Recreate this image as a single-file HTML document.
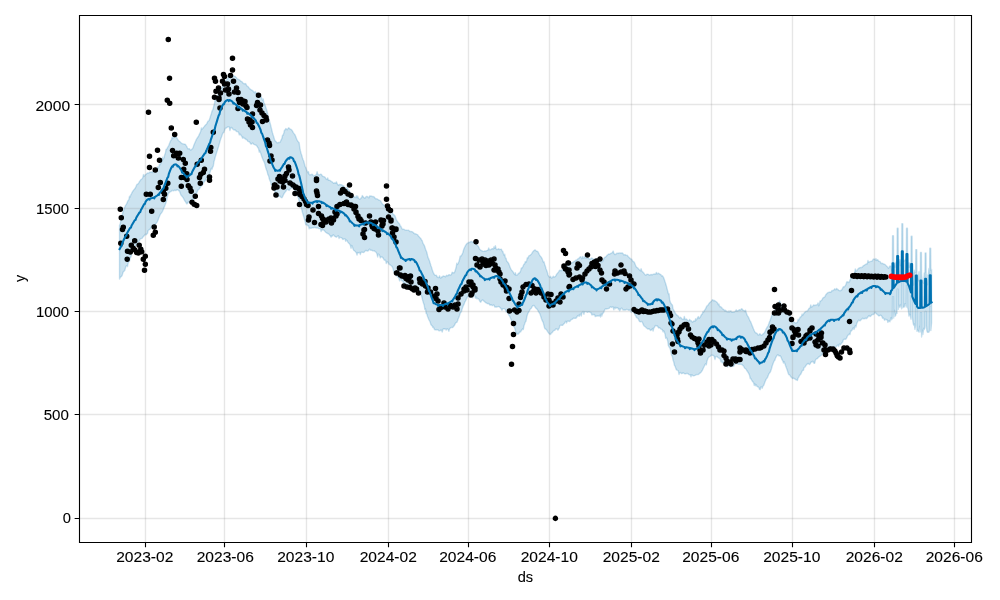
<!DOCTYPE html>
<html><head><meta charset="utf-8"><style>
html,body{margin:0;padding:0;background:#fff;}
svg{display:block;font-family:"Liberation Sans",sans-serif;will-change:transform;}
text{fill:#000;stroke:#000;stroke-width:0.1px;}
</style></head><body>
<svg width="1000" height="600" viewBox="0 0 1000 600"><rect width="1000" height="600" fill="#fff"/><path d="M119.50,225.58 L120.17,223.64 L120.83,220.82 L121.50,217.76 L122.16,214.97 L122.83,212.58 L123.49,211.03 L124.16,207.73 L124.82,207.23 L125.49,205.48 L126.15,204.52 L126.82,203.37 L127.48,201.82 L128.15,200.39 L128.81,199.66 L129.48,196.28 L130.14,196.94 L130.81,194.85 L131.48,193.75 L132.14,192.27 L132.81,191.24 L133.47,190.37 L134.14,189.45 L134.80,188.79 L135.47,187.60 L136.13,186.27 L136.80,184.63 L137.46,184.17 L138.13,183.78 L138.79,182.89 L139.46,181.54 L140.12,180.64 L140.79,179.78 L141.45,179.24 L142.12,178.77 L142.79,177.62 L143.45,174.58 L144.12,176.38 L144.78,175.34 L145.45,174.67 L146.11,174.34 L146.78,173.62 L147.44,172.91 L148.11,173.13 L148.77,173.03 L149.44,172.26 L150.10,172.27 L150.77,172.06 L151.43,171.92 L152.10,172.42 L152.77,171.78 L153.43,170.65 L154.10,169.38 L154.76,170.68 L155.43,170.30 L156.09,169.94 L156.76,169.46 L157.42,166.90 L158.09,168.04 L158.75,166.99 L159.42,164.15 L160.08,164.71 L160.75,163.37 L161.41,161.82 L162.08,160.59 L162.74,157.19 L163.41,158.97 L164.08,157.26 L164.74,154.75 L165.41,153.11 L166.07,149.23 L166.74,149.28 L167.40,147.65 L168.07,146.68 L168.73,145.57 L169.40,143.87 L170.06,141.94 L170.73,140.58 L171.39,140.03 L172.06,137.21 L172.72,138.41 L173.39,137.61 L174.05,135.92 L174.72,137.21 L175.39,136.92 L176.05,137.02 L176.72,137.70 L177.38,138.75 L178.05,139.99 L178.71,140.72 L179.38,141.18 L180.04,141.79 L180.71,142.42 L181.37,143.15 L182.04,143.64 L182.70,143.75 L183.37,143.90 L184.03,144.24 L184.70,144.10 L185.36,144.37 L186.03,145.46 L186.70,146.37 L187.36,147.78 L188.03,148.88 L188.69,148.63 L189.36,148.78 L190.02,149.70 L190.69,150.06 L191.35,149.66 L192.02,149.09 L192.68,148.39 L193.35,146.76 L194.01,144.67 L194.68,143.20 L195.34,141.73 L196.01,140.16 L196.67,138.93 L197.34,137.86 L198.01,137.03 L198.67,135.87 L199.34,134.33 L200.00,132.98 L200.67,131.53 L201.33,127.93 L202.00,129.24 L202.66,128.60 L203.33,127.57 L203.99,126.87 L204.66,126.05 L205.32,125.25 L205.99,124.60 L206.65,123.86 L207.32,122.53 L207.98,121.18 L208.65,120.92 L209.32,119.99 L209.98,117.84 L210.65,115.78 L211.31,113.77 L211.98,111.24 L212.64,110.19 L213.31,107.84 L213.97,105.29 L214.64,102.88 L215.30,98.00 L215.97,98.80 L216.63,97.67 L217.30,96.27 L217.96,94.85 L218.63,93.27 L219.30,91.69 L219.96,90.57 L220.63,89.62 L221.29,88.67 L221.96,87.54 L222.62,86.13 L223.29,84.65 L223.95,84.08 L224.62,83.67 L225.28,82.02 L225.95,80.62 L226.61,79.74 L227.28,79.67 L227.94,78.03 L228.61,77.04 L229.27,75.65 L229.94,75.48 L230.61,75.72 L231.27,75.68 L231.94,73.65 L232.60,75.31 L233.27,75.70 L233.93,76.00 L234.60,76.20 L235.26,76.34 L235.93,77.16 L236.59,77.79 L237.26,78.78 L237.92,79.13 L238.59,79.53 L239.25,79.71 L239.92,80.30 L240.58,81.04 L241.25,81.35 L241.92,81.69 L242.58,82.49 L243.25,83.37 L243.91,83.76 L244.58,83.74 L245.24,83.52 L245.91,83.95 L246.57,85.34 L247.24,86.20 L247.90,86.48 L248.57,87.25 L249.23,88.19 L249.90,88.97 L250.56,89.36 L251.23,89.82 L251.89,90.33 L252.56,90.52 L253.23,91.24 L253.89,92.09 L254.56,92.83 L255.22,91.46 L255.89,93.61 L256.55,92.67 L257.22,92.88 L257.88,93.98 L258.55,94.50 L259.21,95.36 L259.88,96.12 L260.54,95.92 L261.21,96.63 L261.87,98.63 L262.54,100.21 L263.20,98.85 L263.87,102.76 L264.54,103.87 L265.20,105.43 L265.87,107.61 L266.53,109.45 L267.20,111.64 L267.86,114.66 L268.53,117.47 L269.19,119.86 L269.86,122.15 L270.52,124.70 L271.19,127.40 L271.85,130.23 L272.52,132.92 L273.18,135.12 L273.85,137.30 L274.51,139.55 L275.18,140.89 L275.85,141.33 L276.51,142.22 L277.18,142.92 L277.84,142.77 L278.51,142.43 L279.17,142.53 L279.84,142.43 L280.50,141.33 L281.17,139.84 L281.83,138.59 L282.50,135.31 L283.16,135.24 L283.83,132.92 L284.49,130.18 L285.16,129.83 L285.83,128.59 L286.49,129.15 L287.16,129.70 L287.82,128.83 L288.49,127.79 L289.15,128.03 L289.82,128.94 L290.48,129.28 L291.15,129.48 L291.81,130.09 L292.48,131.08 L293.14,132.33 L293.81,133.40 L294.47,134.12 L295.14,135.14 L295.80,136.70 L296.47,138.42 L297.14,140.03 L297.80,141.35 L298.47,141.96 L299.13,142.68 L299.80,147.54 L300.46,150.90 L301.13,153.49 L301.79,155.36 L302.46,157.90 L303.12,159.75 L303.79,161.28 L304.45,164.01 L305.12,166.59 L305.78,167.52 L306.45,169.54 L307.11,171.08 L307.78,172.74 L308.45,171.61 L309.11,174.41 L309.78,174.78 L310.44,174.75 L311.11,174.76 L311.77,174.14 L312.44,174.35 L313.10,175.43 L313.77,175.88 L314.43,175.61 L315.10,175.27 L315.76,174.88 L316.43,174.58 L317.09,171.73 L317.76,174.15 L318.42,174.52 L319.09,174.97 L319.76,174.77 L320.42,174.29 L321.09,174.14 L321.75,174.85 L322.42,176.07 L323.08,176.54 L323.75,176.62 L324.41,176.82 L325.08,177.27 L325.74,178.40 L326.41,179.35 L327.07,179.53 L327.74,177.86 L328.40,180.27 L329.07,180.37 L329.73,180.30 L330.40,180.67 L331.07,181.36 L331.73,181.66 L332.40,182.09 L333.06,182.79 L333.73,183.34 L334.39,182.91 L335.06,182.79 L335.72,183.28 L336.39,181.78 L337.05,183.48 L337.72,184.51 L338.38,185.26 L339.05,184.83 L339.71,184.39 L340.38,184.56 L341.04,184.86 L341.71,184.74 L342.38,185.24 L343.04,186.13 L343.71,185.73 L344.37,187.24 L345.04,187.97 L345.70,188.00 L346.37,188.67 L347.03,186.88 L347.70,189.45 L348.36,189.41 L349.03,190.14 L349.69,191.48 L350.36,193.57 L351.02,194.13 L351.69,194.02 L352.36,194.49 L353.02,195.52 L353.69,196.41 L354.35,196.90 L355.02,197.33 L355.68,197.56 L356.35,195.78 L357.01,197.73 L357.68,196.03 L358.34,198.10 L359.01,198.69 L359.67,199.22 L360.34,198.89 L361.00,198.00 L361.67,197.57 L362.33,195.56 L363.00,196.52 L363.67,197.16 L364.33,198.12 L365.00,198.19 L365.66,197.21 L366.33,196.41 L366.99,196.39 L367.66,196.67 L368.32,197.41 L368.99,197.87 L369.65,195.85 L370.32,196.03 L370.98,195.92 L371.65,196.38 L372.31,196.46 L372.98,196.41 L373.64,196.63 L374.31,197.05 L374.98,198.01 L375.64,198.80 L376.31,198.83 L376.97,198.80 L377.64,199.27 L378.30,199.72 L378.97,200.08 L379.63,200.45 L380.30,200.64 L380.96,201.51 L381.63,202.92 L382.29,203.75 L382.96,204.57 L383.62,205.08 L384.29,204.91 L384.95,205.58 L385.62,206.88 L386.29,207.58 L386.95,207.66 L387.62,208.84 L388.28,208.90 L388.95,208.30 L389.61,209.20 L390.28,210.44 L390.94,210.69 L391.61,210.72 L392.27,212.44 L392.94,213.87 L393.60,214.64 L394.27,215.13 L394.93,215.75 L395.60,217.41 L396.26,219.48 L396.93,220.70 L397.60,221.62 L398.26,222.45 L398.93,223.17 L399.59,224.06 L400.26,225.72 L400.92,226.29 L401.59,227.92 L402.25,229.03 L402.92,229.47 L403.58,229.22 L404.25,229.47 L404.91,229.94 L405.58,230.22 L406.24,230.20 L406.91,230.23 L407.57,230.38 L408.24,230.27 L408.91,230.42 L409.57,231.30 L410.24,231.64 L410.90,231.32 L411.57,231.54 L412.23,231.76 L412.90,232.14 L413.56,232.86 L414.23,233.40 L414.89,233.81 L415.56,233.85 L416.22,234.10 L416.89,234.40 L417.55,234.64 L418.22,235.71 L418.89,236.53 L419.55,237.35 L420.22,237.92 L420.88,238.58 L421.55,239.99 L422.21,240.65 L422.88,243.14 L423.54,244.17 L424.21,245.36 L424.87,247.06 L425.54,249.22 L426.20,250.79 L426.87,252.52 L427.53,255.50 L428.20,257.92 L428.86,259.18 L429.53,260.95 L430.20,263.20 L430.86,265.52 L431.53,267.15 L432.19,269.62 L432.86,271.41 L433.52,273.18 L434.19,274.31 L434.85,275.12 L435.52,275.34 L436.18,275.25 L436.85,276.10 L437.51,277.41 L438.18,277.60 L438.84,277.46 L439.51,275.83 L440.17,277.66 L440.84,278.07 L441.51,276.96 L442.17,277.04 L442.84,276.13 L443.50,276.02 L444.17,276.27 L444.83,276.34 L445.50,276.84 L446.16,275.74 L446.83,275.17 L447.49,275.73 L448.16,275.61 L448.82,274.68 L449.49,274.70 L450.15,275.02 L450.82,274.92 L451.48,274.35 L452.15,272.09 L452.82,272.86 L453.48,272.68 L454.15,272.81 L454.81,271.66 L455.48,269.52 L456.14,267.32 L456.81,263.21 L457.47,264.46 L458.14,263.32 L458.80,261.71 L459.47,259.79 L460.13,256.23 L460.80,256.41 L461.46,255.25 L462.13,254.30 L462.79,252.77 L463.46,250.30 L464.13,248.27 L464.79,246.98 L465.46,245.65 L466.12,244.56 L466.79,243.73 L467.45,243.14 L468.12,243.01 L468.78,242.22 L469.45,242.49 L470.11,242.10 L470.78,241.61 L471.44,241.52 L472.11,241.76 L472.77,242.10 L473.44,242.59 L474.10,242.75 L474.77,242.90 L475.44,243.52 L476.10,244.03 L476.77,244.83 L477.43,245.51 L478.10,246.11 L478.76,247.06 L479.43,248.92 L480.09,249.59 L480.76,250.15 L481.42,250.56 L482.09,250.86 L482.75,251.18 L483.42,251.39 L484.08,251.24 L484.75,250.95 L485.42,251.06 L486.08,251.03 L486.75,250.56 L487.41,250.33 L488.08,249.97 L488.74,247.97 L489.41,249.63 L490.07,249.80 L490.74,249.57 L491.40,249.18 L492.07,248.63 L492.73,248.61 L493.40,248.91 L494.06,246.80 L494.73,248.28 L495.39,245.70 L496.06,248.63 L496.73,249.45 L497.39,249.51 L498.06,248.94 L498.72,248.78 L499.39,249.58 L500.05,249.37 L500.72,249.33 L501.38,249.12 L502.05,250.93 L502.71,251.12 L503.38,253.51 L504.04,255.33 L504.71,254.17 L505.37,257.95 L506.04,258.21 L506.70,261.25 L507.37,261.79 L508.04,262.51 L508.70,263.54 L509.37,265.20 L510.03,267.15 L510.70,268.57 L511.36,269.78 L512.03,270.77 L512.69,271.30 L513.36,272.30 L514.02,273.61 L514.69,274.56 L515.35,272.68 L516.02,275.27 L516.68,275.16 L517.35,274.93 L518.01,273.95 L518.68,273.19 L519.35,273.00 L520.01,272.25 L520.68,270.70 L521.34,267.96 L522.01,268.03 L522.67,267.05 L523.34,265.46 L524.00,264.10 L524.67,263.81 L525.33,261.56 L526.00,262.25 L526.66,260.67 L527.33,257.72 L527.99,258.20 L528.66,256.20 L529.32,255.57 L529.99,255.39 L530.66,254.79 L531.32,254.21 L531.99,253.16 L532.65,251.92 L533.32,251.20 L533.98,250.61 L534.65,249.88 L535.31,249.88 L535.98,250.77 L536.64,251.37 L537.31,251.32 L537.97,251.79 L538.64,253.16 L539.30,254.50 L539.97,255.60 L540.63,256.60 L541.30,257.26 L541.97,258.36 L542.63,260.13 L543.30,262.08 L543.96,261.64 L544.63,264.15 L545.29,265.99 L545.96,268.46 L546.62,270.16 L547.29,272.10 L547.95,274.66 L548.62,276.34 L549.28,276.93 L549.95,277.38 L550.61,276.29 L551.28,278.01 L551.95,277.90 L552.61,277.28 L553.28,276.17 L553.94,277.07 L554.61,276.84 L555.27,276.59 L555.94,275.67 L556.60,274.35 L557.27,273.42 L557.93,272.73 L558.60,271.91 L559.26,270.70 L559.93,270.10 L560.59,270.52 L561.26,270.79 L561.92,270.02 L562.59,268.70 L563.26,268.22 L563.92,268.06 L564.59,266.99 L565.25,266.04 L565.92,265.96 L566.58,265.60 L567.25,264.44 L567.91,262.35 L568.58,263.31 L569.24,263.57 L569.91,261.22 L570.57,262.89 L571.24,263.00 L571.90,262.81 L572.57,262.44 L573.23,262.09 L573.90,261.55 L574.57,261.08 L575.23,261.07 L575.90,260.02 L576.56,260.50 L577.23,259.40 L577.89,258.81 L578.56,258.58 L579.22,258.04 L579.89,257.02 L580.55,256.73 L581.22,257.72 L581.88,258.78 L582.55,256.36 L583.21,257.83 L583.88,258.26 L584.54,256.43 L585.21,257.78 L585.88,257.57 L586.54,258.10 L587.21,258.21 L587.87,257.92 L588.54,258.07 L589.20,258.98 L589.87,259.32 L590.53,258.96 L591.20,258.34 L591.86,257.95 L592.53,258.55 L593.19,259.12 L593.86,259.48 L594.52,258.96 L595.19,259.19 L595.85,259.02 L596.52,259.61 L597.19,259.88 L597.85,259.96 L598.52,260.18 L599.18,259.96 L599.85,258.56 L600.51,261.05 L601.18,261.59 L601.84,261.81 L602.51,261.66 L603.17,260.11 L603.84,258.44 L604.50,257.66 L605.17,257.12 L605.83,256.75 L606.50,256.01 L607.16,255.11 L607.83,254.73 L608.50,254.06 L609.16,254.22 L609.83,254.02 L610.49,253.56 L611.16,253.25 L611.82,252.88 L612.49,252.37 L613.15,251.02 L613.82,253.05 L614.48,254.28 L615.15,254.61 L615.81,254.20 L616.48,253.46 L617.14,253.18 L617.81,253.49 L618.48,253.29 L619.14,252.91 L619.81,252.93 L620.47,252.99 L621.14,253.02 L621.80,252.97 L622.47,252.94 L623.13,253.85 L623.80,254.93 L624.46,254.70 L625.13,254.57 L625.79,255.24 L626.46,255.43 L627.12,255.24 L627.79,255.92 L628.45,256.95 L629.12,257.39 L629.79,258.05 L630.45,258.77 L631.12,258.93 L631.78,259.38 L632.45,260.57 L633.11,261.49 L633.78,261.68 L634.44,262.55 L635.11,264.19 L635.77,265.73 L636.44,267.08 L637.10,267.62 L637.77,267.82 L638.43,268.75 L639.10,269.47 L639.76,270.05 L640.43,270.85 L641.10,268.67 L641.76,270.92 L642.43,271.67 L643.09,272.18 L643.76,272.93 L644.42,273.92 L645.09,274.74 L645.75,275.20 L646.42,274.66 L647.08,274.08 L647.75,274.30 L648.41,274.50 L649.08,274.80 L649.74,275.27 L650.41,274.78 L651.07,274.37 L651.74,274.82 L652.41,274.82 L653.07,274.20 L653.74,274.21 L654.40,274.00 L655.07,273.96 L655.73,274.12 L656.40,272.35 L657.06,273.90 L657.73,273.60 L658.39,273.20 L659.06,273.53 L659.72,274.13 L660.39,274.30 L661.05,274.84 L661.72,276.14 L662.38,275.78 L663.05,276.69 L663.72,277.76 L664.38,279.81 L665.05,281.79 L665.71,283.69 L666.38,285.98 L667.04,288.56 L667.71,291.24 L668.37,293.70 L669.04,293.80 L669.70,299.88 L670.37,302.30 L671.03,303.31 L671.70,304.67 L672.36,304.82 L673.03,308.77 L673.69,309.97 L674.36,311.36 L675.03,312.79 L675.69,313.64 L676.36,314.57 L677.02,315.29 L677.69,315.52 L678.35,316.22 L679.02,317.38 L679.68,318.10 L680.35,317.25 L681.01,317.69 L681.68,318.39 L682.34,319.36 L683.01,319.54 L683.67,319.16 L684.34,316.49 L685.01,319.47 L685.67,319.25 L686.34,318.92 L687.00,319.58 L687.67,320.53 L688.33,320.83 L689.00,320.75 L689.66,319.37 L690.33,320.75 L690.99,320.61 L691.66,321.19 L692.32,322.20 L692.99,321.81 L693.65,320.98 L694.32,320.94 L694.98,321.30 L695.65,318.75 L696.32,319.98 L696.98,318.89 L697.65,317.59 L698.31,316.54 L698.98,318.28 L699.64,317.85 L700.31,316.93 L700.97,315.58 L701.64,314.30 L702.30,314.00 L702.97,311.58 L703.63,312.16 L704.30,310.43 L704.96,309.70 L705.63,308.75 L706.29,307.05 L706.96,305.95 L707.63,305.53 L708.29,304.66 L708.96,303.58 L709.62,302.80 L710.29,302.12 L710.95,301.57 L711.62,300.85 L712.28,299.77 L712.95,299.90 L713.61,300.76 L714.28,300.44 L714.94,300.86 L715.61,301.47 L716.27,301.71 L716.94,302.22 L717.60,303.09 L718.27,304.75 L718.94,304.04 L719.60,306.69 L720.27,306.49 L720.93,306.94 L721.60,307.54 L722.26,308.40 L722.93,309.08 L723.59,309.31 L724.26,310.11 L724.92,311.02 L725.59,310.32 L726.25,311.54 L726.92,311.30 L727.58,311.81 L728.25,312.15 L728.91,310.88 L729.58,311.91 L730.25,311.19 L730.91,310.92 L731.58,311.88 L732.24,312.35 L732.91,312.03 L733.57,312.06 L734.24,312.10 L734.90,311.51 L735.57,311.05 L736.23,309.80 L736.90,311.30 L737.56,310.78 L738.23,310.66 L738.89,310.03 L739.56,309.65 L740.22,310.05 L740.89,309.48 L741.56,308.70 L742.22,309.11 L742.89,310.09 L743.55,310.49 L744.22,310.61 L744.88,311.53 L745.55,310.10 L746.21,312.48 L746.88,314.70 L747.54,315.89 L748.21,316.86 L748.87,318.18 L749.54,319.76 L750.20,321.07 L750.87,322.21 L751.54,323.89 L752.20,325.85 L752.87,327.40 L753.53,329.00 L754.20,330.49 L754.86,331.85 L755.53,332.75 L756.19,332.88 L756.86,333.27 L757.52,334.09 L758.19,335.16 L758.85,335.05 L759.52,333.82 L760.18,333.96 L760.85,334.98 L761.51,335.29 L762.18,334.85 L762.85,334.14 L763.51,333.61 L764.18,332.87 L764.84,331.91 L765.51,330.47 L766.17,328.76 L766.84,327.72 L767.50,326.72 L768.17,325.50 L768.83,323.68 L769.50,321.74 L770.16,320.17 L770.83,318.19 L771.49,316.09 L772.16,314.52 L772.82,313.61 L773.49,312.77 L774.16,311.40 L774.82,309.86 L775.49,308.59 L776.15,307.14 L776.82,305.90 L777.48,305.35 L778.15,304.71 L778.81,303.79 L779.48,300.86 L780.14,302.14 L780.81,303.93 L781.47,304.47 L782.14,305.38 L782.80,306.02 L783.47,306.49 L784.13,307.11 L784.80,308.15 L785.47,309.09 L786.13,310.17 L786.80,311.64 L787.46,312.73 L788.13,313.81 L788.79,314.45 L789.46,314.72 L790.12,315.87 L790.79,317.52 L791.45,318.91 L792.12,320.12 L792.78,320.87 L793.45,321.47 L794.11,322.08 L794.78,322.50 L795.44,323.06 L796.11,323.00 L796.78,322.50 L797.44,322.28 L798.11,319.17 L798.77,319.98 L799.44,318.71 L800.10,317.28 L800.77,316.75 L801.43,316.61 L802.10,313.99 L802.76,315.26 L803.43,314.06 L804.09,313.03 L804.76,312.37 L805.42,311.77 L806.09,311.19 L806.75,311.18 L807.42,310.93 L808.09,309.94 L808.75,308.79 L809.42,308.11 L810.08,307.85 L810.75,304.86 L811.41,307.09 L812.08,306.84 L812.74,306.18 L813.41,304.97 L814.07,304.97 L814.74,305.55 L815.40,305.20 L816.07,304.90 L816.73,304.80 L817.40,304.63 L818.07,302.86 L818.73,305.80 L819.40,304.47 L820.06,300.92 L820.73,300.99 L821.39,300.51 L822.06,299.80 L822.72,298.35 L823.39,297.50 L824.05,297.52 L824.72,296.97 L825.38,295.69 L826.05,294.43 L826.71,293.68 L827.38,292.98 L828.04,292.47 L828.71,292.47 L829.38,292.12 L830.04,292.06 L830.71,292.33 L831.37,291.47 L832.04,290.47 L832.70,290.75 L833.37,290.44 L834.03,289.86 L834.70,288.79 L835.36,289.52 L836.03,289.80 L836.69,288.35 L837.36,289.47 L838.02,289.50 L838.69,290.28 L839.35,290.60 L840.02,290.73 L840.69,290.53 L841.35,290.24 L842.02,289.45 L842.68,288.09 L843.35,286.73 L844.01,286.95 L844.68,286.40 L845.34,285.58 L846.01,284.38 L846.67,281.93 L847.34,281.74 L848.00,282.69 L848.67,281.90 L849.33,282.07 L850.00,279.95 L850.66,278.77 L851.33,275.71 L852.00,278.07 L852.66,276.57 L853.33,274.77 L853.99,273.26 L854.66,272.32 L855.32,268.98 L855.99,271.05 L856.65,270.68 L857.32,269.88 L857.98,268.91 L858.65,268.32 L859.31,268.00 L859.98,267.57 L860.64,267.52 L861.31,267.63 L861.97,267.19 L862.64,266.63 L863.31,265.64 L863.97,265.48 L864.64,264.88 L865.30,264.60 L865.97,264.22 L866.63,263.78 L867.30,263.80 L867.96,260.53 L868.63,262.27 L869.29,261.82 L869.96,261.64 L870.62,261.44 L871.29,261.32 L871.95,261.21 L872.62,260.14 L873.28,259.13 L873.95,259.01 L874.62,259.11 L875.28,259.90 L875.95,258.51 L876.61,260.44 L877.28,259.69 L877.94,259.81 L878.61,261.34 L879.27,261.40 L879.94,261.43 L880.60,262.48 L881.27,263.50 L881.93,263.51 L882.60,263.31 L883.26,263.79 L883.93,264.27 L884.60,264.27 L885.26,264.64 L885.93,265.41 L886.59,265.96 L887.26,266.65 L887.92,267.77 L888.59,268.29 L889.25,266.91 L889.92,266.00 L891.00,266.14 L891.67,270.07 L892.33,265.53 L892.55,235.80 L893.45,235.80 L893.66,264.95 L894.33,264.83 L894.99,267.28 L895.66,263.33 L896.32,261.72 L896.99,263.11 L897.20,228.30 L898.10,228.30 L898.32,259.62 L898.98,262.09 L899.65,259.79 L900.31,265.68 L900.98,259.87 L901.64,263.97 L901.86,223.75 L902.76,223.75 L902.98,261.59 L903.64,260.97 L904.31,260.87 L904.97,260.18 L905.64,259.21 L906.30,260.17 L906.52,228.30 L907.42,228.30 L907.63,263.97 L908.30,262.63 L908.96,267.31 L909.63,262.89 L910.29,267.13 L910.96,265.43 L911.17,236.25 L912.07,236.25 L912.29,275.14 L912.95,273.05 L913.62,285.05 L914.29,270.28 L914.95,272.56 L915.62,272.00 L915.83,249.60 L916.73,249.60 L916.95,275.35 L917.61,274.69 L918.28,280.86 L918.94,271.78 L919.61,282.60 L920.27,285.74 L920.49,252.50 L921.39,252.50 L921.60,274.65 L922.27,280.07 L922.93,282.62 L923.60,283.02 L924.26,273.03 L924.93,272.44 L925.15,252.90 L926.05,252.90 L926.26,289.70 L926.93,274.92 L927.59,284.68 L928.26,276.07 L928.92,268.49 L929.59,275.38 L929.80,248.30 L930.70,248.30 L930.92,270.54 L931.58,269.40 L931.58,322.71 L930.92,330.54 L930.70,306.60 L929.80,306.60 L929.59,330.29 L928.92,332.15 L928.26,332.35 L927.59,332.37 L926.93,331.21 L926.26,325.26 L926.05,311.45 L925.15,311.45 L924.93,327.84 L924.26,329.57 L923.60,328.33 L922.93,334.46 L922.27,330.15 L921.60,336.96 L921.39,312.72 L920.49,312.72 L920.27,331.89 L919.61,326.28 L918.94,332.09 L918.28,330.92 L917.61,330.09 L916.95,331.31 L916.73,304.47 L915.83,304.47 L915.62,325.08 L914.95,329.43 L914.29,323.88 L913.62,325.16 L912.95,322.29 L912.29,316.55 L912.07,295.43 L911.17,295.43 L910.96,319.25 L910.29,315.29 L909.63,314.35 L908.96,316.13 L908.30,309.86 L907.63,307.58 L907.42,285.20 L906.52,285.20 L906.30,307.07 L905.64,304.05 L904.97,303.69 L904.31,306.95 L903.64,306.82 L902.98,307.64 L902.76,282.05 L901.86,282.05 L901.64,308.84 L900.98,304.42 L900.31,306.15 L899.65,307.37 L898.98,305.04 L898.32,309.40 L898.10,289.18 L897.20,289.18 L896.99,313.42 L896.32,313.35 L895.66,315.44 L894.99,316.37 L894.33,310.15 L893.66,318.09 L893.45,296.57 L892.55,296.57 L892.33,318.50 L891.67,319.76 L891.00,317.56 L889.92,321.71 L889.25,321.21 L888.59,320.97 L887.92,322.47 L887.26,319.89 L886.59,319.79 L885.93,319.41 L885.26,319.27 L884.60,320.26 L883.93,318.68 L883.26,317.99 L882.60,318.23 L881.93,316.51 L881.27,315.64 L880.60,315.19 L879.94,315.45 L879.27,315.88 L878.61,315.88 L877.94,315.07 L877.28,314.31 L876.61,314.07 L875.95,313.33 L875.28,312.34 L874.62,312.88 L873.95,314.25 L873.28,314.59 L872.62,314.43 L871.95,314.79 L871.29,315.51 L870.62,316.14 L869.96,316.64 L869.29,315.49 L868.63,315.89 L867.96,317.02 L867.30,317.79 L866.63,318.59 L865.97,318.55 L865.30,318.15 L864.64,318.64 L863.97,318.97 L863.31,318.43 L862.64,318.27 L861.97,318.97 L861.31,319.55 L860.64,320.31 L859.98,320.89 L859.31,320.32 L858.65,320.12 L857.98,321.20 L857.32,322.31 L856.65,323.58 L855.99,327.01 L855.32,325.65 L854.66,327.69 L853.99,329.43 L853.33,327.76 L852.66,328.74 L852.00,330.31 L851.33,330.96 L850.66,331.02 L850.00,334.61 L849.33,333.91 L848.67,334.86 L848.00,335.11 L847.34,336.13 L846.67,337.90 L846.01,339.01 L845.34,339.29 L844.68,339.27 L844.01,339.15 L843.35,339.79 L842.68,342.00 L842.02,342.70 L841.35,343.46 L840.69,344.50 L840.02,344.86 L839.35,344.06 L838.69,346.62 L838.02,344.92 L837.36,345.51 L836.69,346.02 L836.03,347.07 L835.36,347.36 L834.70,347.58 L834.03,347.04 L833.37,348.36 L832.70,349.58 L832.04,350.25 L831.37,350.54 L830.71,349.73 L830.04,349.39 L829.38,350.65 L828.71,351.30 L828.04,351.14 L827.38,351.10 L826.71,350.96 L826.05,351.34 L825.38,351.87 L824.72,351.78 L824.05,352.50 L823.39,353.01 L822.72,353.29 L822.06,354.09 L821.39,355.04 L820.73,355.84 L820.06,356.00 L819.40,356.63 L818.73,357.01 L818.07,357.76 L817.40,358.63 L816.73,358.78 L816.07,359.24 L815.40,360.08 L814.74,363.21 L814.07,363.40 L813.41,361.71 L812.74,361.22 L812.08,362.09 L811.41,361.70 L810.75,362.70 L810.08,363.90 L809.42,364.49 L808.75,363.97 L808.09,363.38 L807.42,363.79 L806.75,364.65 L806.09,365.35 L805.42,366.40 L804.76,367.35 L804.09,367.55 L803.43,370.30 L802.76,370.25 L802.10,371.22 L801.43,372.63 L800.77,374.31 L800.10,374.83 L799.44,375.64 L798.77,377.09 L798.11,378.04 L797.44,380.42 L796.78,380.07 L796.11,379.89 L795.44,379.34 L794.78,378.89 L794.11,378.36 L793.45,378.20 L792.78,378.64 L792.12,378.13 L791.45,377.29 L790.79,376.83 L790.12,375.57 L789.46,374.75 L788.79,374.58 L788.13,373.18 L787.46,370.84 L786.80,368.91 L786.13,367.31 L785.47,365.54 L784.80,363.39 L784.13,361.68 L783.47,363.10 L782.80,360.95 L782.14,359.91 L781.47,358.28 L780.81,356.63 L780.14,355.80 L779.48,355.95 L778.81,355.75 L778.15,354.89 L777.48,354.95 L776.82,355.87 L776.15,356.88 L775.49,358.29 L774.82,360.30 L774.16,360.95 L773.49,362.51 L772.82,364.32 L772.16,366.28 L771.49,368.75 L770.83,370.83 L770.16,372.24 L769.50,373.04 L768.83,373.96 L768.17,375.86 L767.50,377.55 L766.84,378.32 L766.17,379.20 L765.51,380.65 L764.84,382.26 L764.18,384.24 L763.51,385.71 L762.85,386.19 L762.18,388.32 L761.51,386.85 L760.85,386.94 L760.18,389.69 L759.52,389.42 L758.85,387.50 L758.19,386.92 L757.52,386.72 L756.86,386.15 L756.19,384.79 L755.53,385.65 L754.86,383.79 L754.20,385.41 L753.53,382.35 L752.87,381.90 L752.20,381.00 L751.54,379.91 L750.87,378.54 L750.20,378.49 L749.54,375.27 L748.87,373.87 L748.21,372.63 L747.54,371.53 L746.88,370.74 L746.21,369.45 L745.55,368.67 L744.88,368.30 L744.22,367.46 L743.55,366.05 L742.89,365.58 L742.22,364.65 L741.56,364.49 L740.89,364.41 L740.22,364.22 L739.56,364.27 L738.89,364.42 L738.23,364.17 L737.56,363.77 L736.90,363.73 L736.23,363.61 L735.57,363.64 L734.90,364.19 L734.24,365.12 L733.57,366.28 L732.91,366.45 L732.24,366.20 L731.58,366.52 L730.91,366.02 L730.25,366.97 L729.58,365.06 L728.91,365.38 L728.25,365.56 L727.58,367.08 L726.92,365.34 L726.25,365.01 L725.59,365.80 L724.92,362.94 L724.26,362.39 L723.59,362.10 L722.93,362.44 L722.26,362.95 L721.60,361.28 L720.93,361.79 L720.27,359.21 L719.60,358.52 L718.94,358.10 L718.27,357.80 L717.60,357.21 L716.94,356.55 L716.27,356.51 L715.61,356.85 L714.94,359.46 L714.28,356.73 L713.61,355.67 L712.95,355.22 L712.28,355.40 L711.62,355.24 L710.95,355.47 L710.29,356.22 L709.62,356.65 L708.96,356.98 L708.29,357.68 L707.63,359.25 L706.96,361.31 L706.29,364.89 L705.63,363.76 L704.96,364.81 L704.30,366.23 L703.63,367.54 L702.97,368.97 L702.30,370.48 L701.64,371.46 L700.97,372.24 L700.31,372.95 L699.64,373.37 L698.98,373.97 L698.31,374.51 L697.65,374.57 L696.98,374.44 L696.32,374.60 L695.65,375.07 L694.98,375.41 L694.32,375.68 L693.65,375.88 L692.99,375.74 L692.32,375.13 L691.66,374.76 L690.99,376.85 L690.33,374.75 L689.66,374.86 L689.00,374.65 L688.33,374.06 L687.67,373.49 L687.00,373.45 L686.34,373.55 L685.67,373.73 L685.01,373.93 L684.34,373.68 L683.67,373.02 L683.01,372.73 L682.34,373.38 L681.68,373.64 L681.01,372.96 L680.35,372.56 L679.68,372.57 L679.02,374.57 L678.35,371.06 L677.69,370.36 L677.02,370.19 L676.36,369.75 L675.69,368.01 L675.03,366.14 L674.36,365.15 L673.69,361.85 L673.03,360.22 L672.36,356.36 L671.70,355.58 L671.03,352.74 L670.37,349.38 L669.70,347.80 L669.04,346.83 L668.37,345.66 L667.71,340.97 L667.04,338.74 L666.38,337.35 L665.71,338.31 L665.05,334.15 L664.38,332.16 L663.72,330.82 L663.05,331.88 L662.38,329.89 L661.72,329.35 L661.05,329.15 L660.39,328.58 L659.72,327.68 L659.06,327.98 L658.39,327.78 L657.73,326.39 L657.06,325.90 L656.40,325.83 L655.73,325.46 L655.07,326.10 L654.40,327.46 L653.74,328.27 L653.07,330.97 L652.41,328.52 L651.74,330.02 L651.07,329.89 L650.41,330.42 L649.74,329.60 L649.08,328.71 L648.41,329.03 L647.75,329.02 L647.08,328.43 L646.42,328.00 L645.75,327.30 L645.09,326.61 L644.42,326.33 L643.76,325.62 L643.09,323.95 L642.43,322.40 L641.76,321.59 L641.10,321.52 L640.43,321.90 L639.76,321.65 L639.10,320.90 L638.43,318.96 L637.77,318.37 L637.10,317.98 L636.44,317.48 L635.77,315.96 L635.11,315.01 L634.44,313.55 L633.78,312.38 L633.11,311.95 L632.45,311.48 L631.78,310.76 L631.12,312.44 L630.45,309.54 L629.79,309.93 L629.12,310.44 L628.45,310.19 L627.79,309.58 L627.12,309.50 L626.46,309.48 L625.79,309.61 L625.13,310.14 L624.46,309.95 L623.80,309.83 L623.13,310.02 L622.47,309.12 L621.80,308.11 L621.14,308.44 L620.47,309.24 L619.81,310.85 L619.14,308.60 L618.48,309.59 L617.81,307.70 L617.14,308.02 L616.48,307.99 L615.81,307.22 L615.15,308.67 L614.48,307.45 L613.82,309.72 L613.15,306.87 L612.49,306.61 L611.82,307.50 L611.16,307.13 L610.49,306.72 L609.83,307.54 L609.16,308.30 L608.50,308.47 L607.83,308.61 L607.16,308.92 L606.50,308.98 L605.83,308.92 L605.17,309.11 L604.50,310.34 L603.84,312.07 L603.17,313.04 L602.51,313.80 L601.84,316.04 L601.18,313.89 L600.51,317.06 L599.85,315.21 L599.18,315.95 L598.52,316.10 L597.85,315.91 L597.19,315.97 L596.52,316.14 L595.85,316.13 L595.19,316.61 L594.52,314.75 L593.86,314.43 L593.19,314.79 L592.53,314.41 L591.86,314.94 L591.20,312.82 L590.53,312.59 L589.87,312.18 L589.20,311.71 L588.54,311.96 L587.87,312.22 L587.21,312.19 L586.54,311.81 L585.88,311.58 L585.21,311.62 L584.54,311.69 L583.88,314.35 L583.21,311.37 L582.55,311.94 L581.88,313.13 L581.22,316.12 L580.55,314.14 L579.89,314.38 L579.22,316.40 L578.56,315.32 L577.89,315.70 L577.23,316.38 L576.56,317.56 L575.90,318.24 L575.23,318.16 L574.57,318.32 L573.90,318.27 L573.23,318.29 L572.57,319.08 L571.90,319.51 L571.24,319.59 L570.57,320.37 L569.91,321.34 L569.24,321.46 L568.58,321.13 L567.91,321.14 L567.25,321.15 L566.58,323.07 L565.92,321.14 L565.25,321.87 L564.59,323.24 L563.92,323.82 L563.26,324.51 L562.59,325.40 L561.92,325.33 L561.26,325.24 L560.59,325.31 L559.93,325.32 L559.26,328.04 L558.60,328.95 L557.93,330.22 L557.27,329.09 L556.60,328.97 L555.94,328.80 L555.27,329.76 L554.61,330.42 L553.94,330.54 L553.28,331.02 L552.61,332.10 L551.95,332.78 L551.28,333.15 L550.61,334.28 L549.95,334.50 L549.28,333.73 L548.62,333.05 L547.95,332.10 L547.29,331.11 L546.62,329.96 L545.96,329.15 L545.29,328.97 L544.63,328.14 L543.96,325.59 L543.30,322.80 L542.63,321.41 L541.97,320.12 L541.30,318.25 L540.63,316.12 L539.97,314.11 L539.30,312.87 L538.64,311.88 L537.97,310.61 L537.31,309.51 L536.64,308.68 L535.98,308.14 L535.31,307.53 L534.65,306.22 L533.98,305.37 L533.32,305.67 L532.65,305.97 L531.99,306.87 L531.32,308.28 L530.66,308.74 L529.99,309.46 L529.32,311.03 L528.66,312.23 L527.99,313.22 L527.33,315.05 L526.66,317.51 L526.00,321.20 L525.33,321.99 L524.67,324.06 L524.00,325.73 L523.34,329.47 L522.67,328.84 L522.01,329.88 L521.34,330.40 L520.68,332.03 L520.01,331.58 L519.35,332.68 L518.68,333.71 L518.01,334.26 L517.35,334.02 L516.68,333.25 L516.02,333.40 L515.35,330.39 L514.69,328.15 L514.02,326.58 L513.36,325.58 L512.69,324.03 L512.03,322.38 L511.36,320.32 L510.70,318.72 L510.03,317.04 L509.37,315.81 L508.70,314.79 L508.04,313.67 L507.37,312.54 L506.70,311.61 L506.04,311.69 L505.37,309.46 L504.71,309.01 L504.04,308.60 L503.38,308.67 L502.71,308.73 L502.05,310.31 L501.38,309.15 L500.72,308.25 L500.05,307.48 L499.39,306.93 L498.72,306.64 L498.06,306.56 L497.39,306.82 L496.73,306.98 L496.06,307.13 L495.39,307.00 L494.73,306.98 L494.06,305.15 L493.40,305.02 L492.73,305.45 L492.07,305.60 L491.40,304.79 L490.74,304.66 L490.07,305.21 L489.41,304.39 L488.74,303.53 L488.08,303.71 L487.41,303.65 L486.75,303.18 L486.08,302.89 L485.42,302.42 L484.75,301.75 L484.08,301.32 L483.42,300.52 L482.75,299.89 L482.09,300.26 L481.42,300.87 L480.76,302.34 L480.09,301.77 L479.43,300.61 L478.76,298.93 L478.10,298.94 L477.43,298.27 L476.77,298.85 L476.10,296.88 L475.44,298.31 L474.77,295.70 L474.10,294.69 L473.44,294.96 L472.77,297.92 L472.11,294.92 L471.44,293.74 L470.78,295.97 L470.11,295.19 L469.45,297.35 L468.78,295.65 L468.12,295.99 L467.45,296.84 L466.79,298.10 L466.12,299.64 L465.46,301.12 L464.79,302.14 L464.13,304.20 L463.46,305.38 L462.79,307.04 L462.13,309.09 L461.46,311.52 L460.80,312.48 L460.13,313.54 L459.47,315.81 L458.80,317.55 L458.14,319.05 L457.47,321.06 L456.81,322.41 L456.14,322.59 L455.48,323.16 L454.81,324.64 L454.15,325.82 L453.48,326.48 L452.82,327.37 L452.15,327.64 L451.48,327.36 L450.82,327.55 L450.15,328.15 L449.49,329.09 L448.82,331.29 L448.16,329.60 L447.49,328.72 L446.83,328.83 L446.16,330.14 L445.50,328.87 L444.83,328.78 L444.17,329.01 L443.50,328.75 L442.84,329.71 L442.17,332.09 L441.51,330.18 L440.84,330.13 L440.17,330.59 L439.51,330.85 L438.84,330.73 L438.18,330.10 L437.51,329.65 L436.85,329.57 L436.18,330.01 L435.52,329.88 L434.85,329.71 L434.19,328.99 L433.52,327.13 L432.86,327.45 L432.19,325.81 L431.53,325.43 L430.86,324.53 L430.20,322.29 L429.53,320.86 L428.86,319.75 L428.20,318.01 L427.53,316.45 L426.87,314.12 L426.20,313.64 L425.54,309.03 L424.87,309.40 L424.21,305.29 L423.54,303.22 L422.88,301.19 L422.21,298.51 L421.55,295.76 L420.88,294.46 L420.22,293.50 L419.55,291.76 L418.89,290.48 L418.22,289.80 L417.55,288.89 L416.89,288.44 L416.22,288.52 L415.56,288.36 L414.89,288.06 L414.23,287.46 L413.56,287.75 L412.90,286.24 L412.23,286.30 L411.57,285.90 L410.90,285.15 L410.24,285.00 L409.57,288.01 L408.91,285.60 L408.24,285.70 L407.57,286.30 L406.91,285.09 L406.24,285.13 L405.58,287.24 L404.91,283.95 L404.25,283.39 L403.58,282.83 L402.92,281.39 L402.25,280.27 L401.59,280.67 L400.92,279.09 L400.26,279.06 L399.59,280.94 L398.93,278.27 L398.26,277.57 L397.60,276.60 L396.93,275.48 L396.26,275.92 L395.60,274.32 L394.93,273.73 L394.27,272.80 L393.60,271.01 L392.94,268.59 L392.27,266.73 L391.61,265.94 L390.94,265.45 L390.28,264.94 L389.61,264.61 L388.95,264.12 L388.28,262.81 L387.62,261.78 L386.95,262.10 L386.29,263.53 L385.62,260.28 L384.95,260.33 L384.29,260.05 L383.62,258.96 L382.96,257.83 L382.29,257.16 L381.63,256.84 L380.96,256.88 L380.30,257.98 L379.63,255.63 L378.97,254.30 L378.30,254.10 L377.64,256.97 L376.97,253.97 L376.31,252.55 L375.64,251.87 L374.98,251.53 L374.31,250.79 L373.64,250.85 L372.98,250.96 L372.31,250.50 L371.65,250.19 L370.98,250.37 L370.32,250.12 L369.65,249.21 L368.99,249.62 L368.32,250.69 L367.66,251.11 L366.99,251.00 L366.33,250.44 L365.66,250.44 L365.00,251.13 L364.33,252.04 L363.67,252.51 L363.00,252.39 L362.33,252.16 L361.67,252.19 L361.00,252.23 L360.34,254.51 L359.67,252.34 L359.01,252.93 L358.34,252.71 L357.68,252.53 L357.01,254.98 L356.35,252.73 L355.68,252.01 L355.02,251.21 L354.35,250.71 L353.69,250.29 L353.02,248.74 L352.36,246.75 L351.69,245.37 L351.02,248.22 L350.36,245.44 L349.69,244.26 L349.03,243.42 L348.36,242.84 L347.70,241.81 L347.03,240.63 L346.37,239.94 L345.70,241.29 L345.04,238.88 L344.37,238.60 L343.71,239.06 L343.04,239.48 L342.38,238.89 L341.71,237.79 L341.04,237.66 L340.38,237.61 L339.71,237.17 L339.05,238.53 L338.38,235.76 L337.72,235.85 L337.05,236.73 L336.39,237.25 L335.72,236.90 L335.06,236.43 L334.39,236.05 L333.73,235.05 L333.06,234.95 L332.40,236.02 L331.73,235.90 L331.07,237.25 L330.40,235.83 L329.73,235.26 L329.07,234.37 L328.40,233.75 L327.74,233.49 L327.07,233.28 L326.41,232.63 L325.74,232.35 L325.08,231.47 L324.41,230.70 L323.75,229.97 L323.08,229.98 L322.42,229.76 L321.75,229.78 L321.09,231.57 L320.42,228.45 L319.76,228.64 L319.09,228.65 L318.42,228.46 L317.76,228.10 L317.09,227.90 L316.43,227.94 L315.76,227.91 L315.10,227.53 L314.43,227.39 L313.77,227.73 L313.10,227.88 L312.44,227.64 L311.77,227.83 L311.11,228.41 L310.44,228.32 L309.78,227.80 L309.11,228.87 L308.45,225.70 L307.78,225.77 L307.11,225.12 L306.45,224.63 L305.78,224.88 L305.12,221.51 L304.45,219.31 L303.79,217.06 L303.12,214.71 L302.46,212.52 L301.79,209.82 L301.13,207.57 L300.46,205.92 L299.80,204.73 L299.13,201.30 L298.47,198.19 L297.80,196.59 L297.14,195.14 L296.47,193.57 L295.80,191.69 L295.14,190.32 L294.47,190.22 L293.81,189.60 L293.14,188.11 L292.48,187.50 L291.81,187.78 L291.15,188.24 L290.48,188.60 L289.82,189.59 L289.15,190.43 L288.49,190.12 L287.82,189.47 L287.16,189.32 L286.49,190.20 L285.83,191.26 L285.16,192.08 L284.49,192.97 L283.83,194.06 L283.16,195.55 L282.50,196.99 L281.83,197.68 L281.17,197.52 L280.50,196.77 L279.84,195.97 L279.17,196.20 L278.51,196.45 L277.84,195.87 L277.18,197.32 L276.51,193.81 L275.85,193.45 L275.18,192.40 L274.51,190.48 L273.85,190.01 L273.18,188.82 L272.52,187.03 L271.85,185.36 L271.19,184.80 L270.52,181.61 L269.86,180.62 L269.19,178.57 L268.53,175.71 L267.86,174.72 L267.20,171.63 L266.53,169.90 L265.87,167.99 L265.20,165.52 L264.54,162.84 L263.87,161.46 L263.20,160.25 L262.54,158.55 L261.87,156.88 L261.21,154.77 L260.54,152.65 L259.88,151.05 L259.21,152.23 L258.55,148.59 L257.88,147.76 L257.22,146.68 L256.55,145.61 L255.89,145.18 L255.22,144.85 L254.56,144.66 L253.89,144.43 L253.23,143.39 L252.56,143.06 L251.89,143.78 L251.23,144.16 L250.56,143.63 L249.90,142.48 L249.23,141.75 L248.57,141.57 L247.90,141.37 L247.24,140.42 L246.57,139.44 L245.91,139.52 L245.24,138.43 L244.58,138.59 L243.91,138.10 L243.25,137.14 L242.58,138.20 L241.92,136.46 L241.25,135.71 L240.58,134.66 L239.92,134.12 L239.25,134.91 L238.59,132.56 L237.92,131.84 L237.26,131.59 L236.59,131.48 L235.93,130.88 L235.26,130.03 L234.60,129.94 L233.93,130.02 L233.27,129.53 L232.60,128.78 L231.94,127.92 L231.27,127.39 L230.61,127.93 L229.94,130.62 L229.27,127.22 L228.61,126.60 L227.94,126.80 L227.28,127.17 L226.61,127.88 L225.95,128.12 L225.28,128.45 L224.62,130.27 L223.95,132.33 L223.29,132.73 L222.62,133.53 L221.96,135.76 L221.29,137.59 L220.63,139.31 L219.96,141.48 L219.30,143.93 L218.63,146.36 L217.96,148.56 L217.30,150.63 L216.63,152.51 L215.97,154.85 L215.30,156.87 L214.64,159.49 L213.97,161.78 L213.31,166.03 L212.64,167.18 L211.98,169.34 L211.31,168.28 L210.65,170.29 L209.98,172.53 L209.32,174.45 L208.65,175.82 L207.98,176.90 L207.32,177.41 L206.65,177.80 L205.99,179.01 L205.32,180.41 L204.66,181.20 L203.99,182.05 L203.33,183.34 L202.66,184.58 L202.00,185.45 L201.33,185.93 L200.67,186.66 L200.00,187.82 L199.34,188.93 L198.67,189.46 L198.01,189.87 L197.34,191.37 L196.67,193.44 L196.01,194.98 L195.34,195.78 L194.68,196.56 L194.01,199.72 L193.35,198.76 L192.68,199.16 L192.02,200.14 L191.35,201.55 L190.69,202.52 L190.02,202.57 L189.36,201.99 L188.69,201.82 L188.03,202.45 L187.36,203.54 L186.70,203.79 L186.03,202.64 L185.36,201.42 L184.70,200.72 L184.03,199.50 L183.37,197.95 L182.70,197.10 L182.04,196.32 L181.37,195.50 L180.71,194.58 L180.04,192.61 L179.38,191.10 L178.71,190.71 L178.05,190.08 L177.38,189.65 L176.72,189.95 L176.05,190.61 L175.39,190.54 L174.72,190.09 L174.05,190.65 L173.39,190.83 L172.72,190.34 L172.06,190.51 L171.39,191.12 L170.73,191.68 L170.06,191.61 L169.40,192.76 L168.73,192.79 L168.07,194.60 L167.40,196.86 L166.74,199.85 L166.07,202.45 L165.41,204.31 L164.74,205.95 L164.08,207.40 L163.41,209.14 L162.74,210.80 L162.08,212.04 L161.41,212.99 L160.75,213.77 L160.08,214.91 L159.42,216.38 L158.75,218.11 L158.09,219.89 L157.42,221.54 L156.76,222.63 L156.09,223.51 L155.43,224.34 L154.76,224.88 L154.10,225.97 L153.43,226.91 L152.77,226.75 L152.10,226.22 L151.43,226.91 L150.77,227.97 L150.10,229.14 L149.44,229.68 L148.77,229.85 L148.11,230.68 L147.44,233.54 L146.78,233.99 L146.11,234.88 L145.45,234.31 L144.78,235.07 L144.12,235.71 L143.45,236.40 L142.79,237.43 L142.12,238.31 L141.45,238.48 L140.79,238.62 L140.12,239.29 L139.46,240.75 L138.79,241.63 L138.13,241.72 L137.46,242.70 L136.80,243.82 L136.13,244.98 L135.47,245.83 L134.80,246.63 L134.14,248.50 L133.47,250.41 L132.81,250.84 L132.14,252.04 L131.48,255.04 L130.81,257.14 L130.14,258.02 L129.48,261.46 L128.81,261.41 L128.15,263.22 L127.48,266.60 L126.82,265.66 L126.15,266.12 L125.49,267.85 L124.82,270.33 L124.16,271.19 L123.49,271.40 L122.83,273.04 L122.16,275.41 L121.50,276.49 L120.83,276.82 L120.17,277.78 L119.50,279.10 Z" fill="rgb(0,114,178)" fill-opacity="0.2" stroke="rgb(0,114,178)" stroke-opacity="0.2" stroke-width="1.39" stroke-linejoin="round"/><path d="M145.5,15.5 V542.5 M224.5,15.5 V542.5 M306.5,15.5 V542.5 M388.5,15.5 V542.5 M468.5,15.5 V542.5 M549.5,15.5 V542.5 M631.5,15.5 V542.5 M711.5,15.5 V542.5 M792.5,15.5 V542.5 M874.5,15.5 V542.5 M954.5,15.5 V542.5" stroke="#808080" stroke-opacity="0.2" stroke-width="1.39" fill="none"/><path d="M79.5,518.5 H971.5 M79.5,414.5 H971.5 M79.5,311.5 H971.5 M79.5,208.5 H971.5 M79.5,104.5 H971.5" stroke="#808080" stroke-opacity="0.2" stroke-width="1.39" fill="none"/><path d="M166.22,39.50a2.08,2.08 0 1,0 4.16,0a2.08,2.08 0 1,0 -4.16,0M167.42,78.30a2.08,2.08 0 1,0 4.16,0a2.08,2.08 0 1,0 -4.16,0M165.22,100.30a2.08,2.08 0 1,0 4.16,0a2.08,2.08 0 1,0 -4.16,0M167.62,103.30a2.08,2.08 0 1,0 4.16,0a2.08,2.08 0 1,0 -4.16,0M146.42,112.20a2.08,2.08 0 1,0 4.16,0a2.08,2.08 0 1,0 -4.16,0M194.22,122.20a2.08,2.08 0 1,0 4.16,0a2.08,2.08 0 1,0 -4.16,0M169.22,128.00a2.08,2.08 0 1,0 4.16,0a2.08,2.08 0 1,0 -4.16,0M172.62,134.50a2.08,2.08 0 1,0 4.16,0a2.08,2.08 0 1,0 -4.16,0M211.22,132.20a2.08,2.08 0 1,0 4.16,0a2.08,2.08 0 1,0 -4.16,0M208.72,147.50a2.08,2.08 0 1,0 4.16,0a2.08,2.08 0 1,0 -4.16,0M208.42,151.30a2.08,2.08 0 1,0 4.16,0a2.08,2.08 0 1,0 -4.16,0M155.42,150.30a2.08,2.08 0 1,0 4.16,0a2.08,2.08 0 1,0 -4.16,0M147.42,156.20a2.08,2.08 0 1,0 4.16,0a2.08,2.08 0 1,0 -4.16,0M157.42,160.20a2.08,2.08 0 1,0 4.16,0a2.08,2.08 0 1,0 -4.16,0M147.42,167.50a2.08,2.08 0 1,0 4.16,0a2.08,2.08 0 1,0 -4.16,0M153.22,170.00a2.08,2.08 0 1,0 4.16,0a2.08,2.08 0 1,0 -4.16,0M170.42,150.50a2.08,2.08 0 1,0 4.16,0a2.08,2.08 0 1,0 -4.16,0M171.62,155.80a2.08,2.08 0 1,0 4.16,0a2.08,2.08 0 1,0 -4.16,0M174.62,153.30a2.08,2.08 0 1,0 4.16,0a2.08,2.08 0 1,0 -4.16,0M177.62,153.30a2.08,2.08 0 1,0 4.16,0a2.08,2.08 0 1,0 -4.16,0M176.22,158.00a2.08,2.08 0 1,0 4.16,0a2.08,2.08 0 1,0 -4.16,0M181.22,159.50a2.08,2.08 0 1,0 4.16,0a2.08,2.08 0 1,0 -4.16,0M183.22,163.30a2.08,2.08 0 1,0 4.16,0a2.08,2.08 0 1,0 -4.16,0M181.62,169.20a2.08,2.08 0 1,0 4.16,0a2.08,2.08 0 1,0 -4.16,0M184.62,173.70a2.08,2.08 0 1,0 4.16,0a2.08,2.08 0 1,0 -4.16,0M179.22,177.50a2.08,2.08 0 1,0 4.16,0a2.08,2.08 0 1,0 -4.16,0M182.12,177.50a2.08,2.08 0 1,0 4.16,0a2.08,2.08 0 1,0 -4.16,0M184.92,179.50a2.08,2.08 0 1,0 4.16,0a2.08,2.08 0 1,0 -4.16,0M179.22,186.30a2.08,2.08 0 1,0 4.16,0a2.08,2.08 0 1,0 -4.16,0M186.22,185.80a2.08,2.08 0 1,0 4.16,0a2.08,2.08 0 1,0 -4.16,0M187.92,188.00a2.08,2.08 0 1,0 4.16,0a2.08,2.08 0 1,0 -4.16,0M189.12,191.30a2.08,2.08 0 1,0 4.16,0a2.08,2.08 0 1,0 -4.16,0M193.22,196.30a2.08,2.08 0 1,0 4.16,0a2.08,2.08 0 1,0 -4.16,0M189.92,202.20a2.08,2.08 0 1,0 4.16,0a2.08,2.08 0 1,0 -4.16,0M192.12,204.20a2.08,2.08 0 1,0 4.16,0a2.08,2.08 0 1,0 -4.16,0M194.62,205.50a2.08,2.08 0 1,0 4.16,0a2.08,2.08 0 1,0 -4.16,0M199.22,160.30a2.08,2.08 0 1,0 4.16,0a2.08,2.08 0 1,0 -4.16,0M195.12,164.20a2.08,2.08 0 1,0 4.16,0a2.08,2.08 0 1,0 -4.16,0M202.42,169.20a2.08,2.08 0 1,0 4.16,0a2.08,2.08 0 1,0 -4.16,0M201.22,172.50a2.08,2.08 0 1,0 4.16,0a2.08,2.08 0 1,0 -4.16,0M198.72,174.20a2.08,2.08 0 1,0 4.16,0a2.08,2.08 0 1,0 -4.16,0M197.42,177.50a2.08,2.08 0 1,0 4.16,0a2.08,2.08 0 1,0 -4.16,0M198.22,183.30a2.08,2.08 0 1,0 4.16,0a2.08,2.08 0 1,0 -4.16,0M207.42,177.00a2.08,2.08 0 1,0 4.16,0a2.08,2.08 0 1,0 -4.16,0M207.42,180.30a2.08,2.08 0 1,0 4.16,0a2.08,2.08 0 1,0 -4.16,0M158.22,182.50a2.08,2.08 0 1,0 4.16,0a2.08,2.08 0 1,0 -4.16,0M165.72,183.30a2.08,2.08 0 1,0 4.16,0a2.08,2.08 0 1,0 -4.16,0M156.22,187.50a2.08,2.08 0 1,0 4.16,0a2.08,2.08 0 1,0 -4.16,0M163.72,188.30a2.08,2.08 0 1,0 4.16,0a2.08,2.08 0 1,0 -4.16,0M161.22,191.70a2.08,2.08 0 1,0 4.16,0a2.08,2.08 0 1,0 -4.16,0M162.42,194.20a2.08,2.08 0 1,0 4.16,0a2.08,2.08 0 1,0 -4.16,0M161.22,199.50a2.08,2.08 0 1,0 4.16,0a2.08,2.08 0 1,0 -4.16,0M144.22,194.20a2.08,2.08 0 1,0 4.16,0a2.08,2.08 0 1,0 -4.16,0M148.22,194.20a2.08,2.08 0 1,0 4.16,0a2.08,2.08 0 1,0 -4.16,0M149.62,211.20a2.08,2.08 0 1,0 4.16,0a2.08,2.08 0 1,0 -4.16,0M118.22,209.20a2.08,2.08 0 1,0 4.16,0a2.08,2.08 0 1,0 -4.16,0M119.22,217.80a2.08,2.08 0 1,0 4.16,0a2.08,2.08 0 1,0 -4.16,0M121.22,227.20a2.08,2.08 0 1,0 4.16,0a2.08,2.08 0 1,0 -4.16,0M120.42,229.50a2.08,2.08 0 1,0 4.16,0a2.08,2.08 0 1,0 -4.16,0M124.62,236.30a2.08,2.08 0 1,0 4.16,0a2.08,2.08 0 1,0 -4.16,0M118.72,243.30a2.08,2.08 0 1,0 4.16,0a2.08,2.08 0 1,0 -4.16,0M132.62,240.80a2.08,2.08 0 1,0 4.16,0a2.08,2.08 0 1,0 -4.16,0M129.22,245.30a2.08,2.08 0 1,0 4.16,0a2.08,2.08 0 1,0 -4.16,0M125.42,251.20a2.08,2.08 0 1,0 4.16,0a2.08,2.08 0 1,0 -4.16,0M128.22,252.00a2.08,2.08 0 1,0 4.16,0a2.08,2.08 0 1,0 -4.16,0M131.22,248.30a2.08,2.08 0 1,0 4.16,0a2.08,2.08 0 1,0 -4.16,0M132.92,250.00a2.08,2.08 0 1,0 4.16,0a2.08,2.08 0 1,0 -4.16,0M134.62,252.50a2.08,2.08 0 1,0 4.16,0a2.08,2.08 0 1,0 -4.16,0M137.12,245.30a2.08,2.08 0 1,0 4.16,0a2.08,2.08 0 1,0 -4.16,0M138.72,249.20a2.08,2.08 0 1,0 4.16,0a2.08,2.08 0 1,0 -4.16,0M139.62,251.70a2.08,2.08 0 1,0 4.16,0a2.08,2.08 0 1,0 -4.16,0M136.22,253.00a2.08,2.08 0 1,0 4.16,0a2.08,2.08 0 1,0 -4.16,0M125.12,259.20a2.08,2.08 0 1,0 4.16,0a2.08,2.08 0 1,0 -4.16,0M143.22,256.30a2.08,2.08 0 1,0 4.16,0a2.08,2.08 0 1,0 -4.16,0M141.22,259.20a2.08,2.08 0 1,0 4.16,0a2.08,2.08 0 1,0 -4.16,0M143.22,264.20a2.08,2.08 0 1,0 4.16,0a2.08,2.08 0 1,0 -4.16,0M142.42,270.30a2.08,2.08 0 1,0 4.16,0a2.08,2.08 0 1,0 -4.16,0M152.12,227.00a2.08,2.08 0 1,0 4.16,0a2.08,2.08 0 1,0 -4.16,0M153.22,232.20a2.08,2.08 0 1,0 4.16,0a2.08,2.08 0 1,0 -4.16,0M151.22,235.30a2.08,2.08 0 1,0 4.16,0a2.08,2.08 0 1,0 -4.16,0M230.42,58.30a2.08,2.08 0 1,0 4.16,0a2.08,2.08 0 1,0 -4.16,0M230.42,70.00a2.08,2.08 0 1,0 4.16,0a2.08,2.08 0 1,0 -4.16,0M221.42,74.50a2.08,2.08 0 1,0 4.16,0a2.08,2.08 0 1,0 -4.16,0M222.42,76.50a2.08,2.08 0 1,0 4.16,0a2.08,2.08 0 1,0 -4.16,0M228.42,75.50a2.08,2.08 0 1,0 4.16,0a2.08,2.08 0 1,0 -4.16,0M212.42,78.20a2.08,2.08 0 1,0 4.16,0a2.08,2.08 0 1,0 -4.16,0M213.42,81.20a2.08,2.08 0 1,0 4.16,0a2.08,2.08 0 1,0 -4.16,0M220.42,81.20a2.08,2.08 0 1,0 4.16,0a2.08,2.08 0 1,0 -4.16,0M231.42,81.20a2.08,2.08 0 1,0 4.16,0a2.08,2.08 0 1,0 -4.16,0M222.42,84.00a2.08,2.08 0 1,0 4.16,0a2.08,2.08 0 1,0 -4.16,0M225.42,84.00a2.08,2.08 0 1,0 4.16,0a2.08,2.08 0 1,0 -4.16,0M216.42,88.00a2.08,2.08 0 1,0 4.16,0a2.08,2.08 0 1,0 -4.16,0M213.92,91.20a2.08,2.08 0 1,0 4.16,0a2.08,2.08 0 1,0 -4.16,0M218.42,93.00a2.08,2.08 0 1,0 4.16,0a2.08,2.08 0 1,0 -4.16,0M223.42,90.00a2.08,2.08 0 1,0 4.16,0a2.08,2.08 0 1,0 -4.16,0M226.42,89.00a2.08,2.08 0 1,0 4.16,0a2.08,2.08 0 1,0 -4.16,0M226.92,94.00a2.08,2.08 0 1,0 4.16,0a2.08,2.08 0 1,0 -4.16,0M234.42,88.00a2.08,2.08 0 1,0 4.16,0a2.08,2.08 0 1,0 -4.16,0M232.42,92.00a2.08,2.08 0 1,0 4.16,0a2.08,2.08 0 1,0 -4.16,0M235.92,92.50a2.08,2.08 0 1,0 4.16,0a2.08,2.08 0 1,0 -4.16,0M212.42,97.20a2.08,2.08 0 1,0 4.16,0a2.08,2.08 0 1,0 -4.16,0M216.92,98.00a2.08,2.08 0 1,0 4.16,0a2.08,2.08 0 1,0 -4.16,0M256.42,95.20a2.08,2.08 0 1,0 4.16,0a2.08,2.08 0 1,0 -4.16,0M216.92,99.50a2.08,2.08 0 1,0 4.16,0a2.08,2.08 0 1,0 -4.16,0M236.42,99.50a2.08,2.08 0 1,0 4.16,0a2.08,2.08 0 1,0 -4.16,0M238.92,99.50a2.08,2.08 0 1,0 4.16,0a2.08,2.08 0 1,0 -4.16,0M240.92,101.00a2.08,2.08 0 1,0 4.16,0a2.08,2.08 0 1,0 -4.16,0M242.92,101.50a2.08,2.08 0 1,0 4.16,0a2.08,2.08 0 1,0 -4.16,0M237.42,102.50a2.08,2.08 0 1,0 4.16,0a2.08,2.08 0 1,0 -4.16,0M240.92,104.00a2.08,2.08 0 1,0 4.16,0a2.08,2.08 0 1,0 -4.16,0M243.92,106.00a2.08,2.08 0 1,0 4.16,0a2.08,2.08 0 1,0 -4.16,0M244.92,107.50a2.08,2.08 0 1,0 4.16,0a2.08,2.08 0 1,0 -4.16,0M235.92,108.50a2.08,2.08 0 1,0 4.16,0a2.08,2.08 0 1,0 -4.16,0M217.92,108.00a2.08,2.08 0 1,0 4.16,0a2.08,2.08 0 1,0 -4.16,0M255.42,102.50a2.08,2.08 0 1,0 4.16,0a2.08,2.08 0 1,0 -4.16,0M254.42,105.50a2.08,2.08 0 1,0 4.16,0a2.08,2.08 0 1,0 -4.16,0M258.42,105.00a2.08,2.08 0 1,0 4.16,0a2.08,2.08 0 1,0 -4.16,0M257.92,110.00a2.08,2.08 0 1,0 4.16,0a2.08,2.08 0 1,0 -4.16,0M259.92,113.00a2.08,2.08 0 1,0 4.16,0a2.08,2.08 0 1,0 -4.16,0M261.92,115.50a2.08,2.08 0 1,0 4.16,0a2.08,2.08 0 1,0 -4.16,0M263.92,117.50a2.08,2.08 0 1,0 4.16,0a2.08,2.08 0 1,0 -4.16,0M264.42,120.00a2.08,2.08 0 1,0 4.16,0a2.08,2.08 0 1,0 -4.16,0M260.42,121.50a2.08,2.08 0 1,0 4.16,0a2.08,2.08 0 1,0 -4.16,0M250.42,114.00a2.08,2.08 0 1,0 4.16,0a2.08,2.08 0 1,0 -4.16,0M245.42,119.00a2.08,2.08 0 1,0 4.16,0a2.08,2.08 0 1,0 -4.16,0M247.92,120.00a2.08,2.08 0 1,0 4.16,0a2.08,2.08 0 1,0 -4.16,0M246.92,122.00a2.08,2.08 0 1,0 4.16,0a2.08,2.08 0 1,0 -4.16,0M249.92,122.00a2.08,2.08 0 1,0 4.16,0a2.08,2.08 0 1,0 -4.16,0M248.42,125.00a2.08,2.08 0 1,0 4.16,0a2.08,2.08 0 1,0 -4.16,0M250.42,127.50a2.08,2.08 0 1,0 4.16,0a2.08,2.08 0 1,0 -4.16,0M265.42,140.00a2.08,2.08 0 1,0 4.16,0a2.08,2.08 0 1,0 -4.16,0M266.92,143.00a2.08,2.08 0 1,0 4.16,0a2.08,2.08 0 1,0 -4.16,0M267.42,145.50a2.08,2.08 0 1,0 4.16,0a2.08,2.08 0 1,0 -4.16,0M267.42,145.00a2.08,2.08 0 1,0 4.16,0a2.08,2.08 0 1,0 -4.16,0M268.92,156.00a2.08,2.08 0 1,0 4.16,0a2.08,2.08 0 1,0 -4.16,0M267.92,161.00a2.08,2.08 0 1,0 4.16,0a2.08,2.08 0 1,0 -4.16,0M269.92,160.00a2.08,2.08 0 1,0 4.16,0a2.08,2.08 0 1,0 -4.16,0M286.42,167.00a2.08,2.08 0 1,0 4.16,0a2.08,2.08 0 1,0 -4.16,0M286.92,170.00a2.08,2.08 0 1,0 4.16,0a2.08,2.08 0 1,0 -4.16,0M284.42,173.50a2.08,2.08 0 1,0 4.16,0a2.08,2.08 0 1,0 -4.16,0M282.92,176.00a2.08,2.08 0 1,0 4.16,0a2.08,2.08 0 1,0 -4.16,0M290.42,176.00a2.08,2.08 0 1,0 4.16,0a2.08,2.08 0 1,0 -4.16,0M277.42,176.50a2.08,2.08 0 1,0 4.16,0a2.08,2.08 0 1,0 -4.16,0M275.92,179.00a2.08,2.08 0 1,0 4.16,0a2.08,2.08 0 1,0 -4.16,0M278.92,180.00a2.08,2.08 0 1,0 4.16,0a2.08,2.08 0 1,0 -4.16,0M281.92,179.00a2.08,2.08 0 1,0 4.16,0a2.08,2.08 0 1,0 -4.16,0M280.42,182.00a2.08,2.08 0 1,0 4.16,0a2.08,2.08 0 1,0 -4.16,0M272.92,185.00a2.08,2.08 0 1,0 4.16,0a2.08,2.08 0 1,0 -4.16,0M274.92,187.00a2.08,2.08 0 1,0 4.16,0a2.08,2.08 0 1,0 -4.16,0M271.92,188.00a2.08,2.08 0 1,0 4.16,0a2.08,2.08 0 1,0 -4.16,0M281.42,187.00a2.08,2.08 0 1,0 4.16,0a2.08,2.08 0 1,0 -4.16,0M287.92,183.00a2.08,2.08 0 1,0 4.16,0a2.08,2.08 0 1,0 -4.16,0M290.92,185.00a2.08,2.08 0 1,0 4.16,0a2.08,2.08 0 1,0 -4.16,0M293.92,187.00a2.08,2.08 0 1,0 4.16,0a2.08,2.08 0 1,0 -4.16,0M296.92,188.50a2.08,2.08 0 1,0 4.16,0a2.08,2.08 0 1,0 -4.16,0M314.42,179.00a2.08,2.08 0 1,0 4.16,0a2.08,2.08 0 1,0 -4.16,0M347.42,185.00a2.08,2.08 0 1,0 4.16,0a2.08,2.08 0 1,0 -4.16,0M340.92,189.50a2.08,2.08 0 1,0 4.16,0a2.08,2.08 0 1,0 -4.16,0M277.92,181.00a2.08,2.08 0 1,0 4.16,0a2.08,2.08 0 1,0 -4.16,0M280.92,181.50a2.08,2.08 0 1,0 4.16,0a2.08,2.08 0 1,0 -4.16,0M282.92,180.50a2.08,2.08 0 1,0 4.16,0a2.08,2.08 0 1,0 -4.16,0M272.42,185.00a2.08,2.08 0 1,0 4.16,0a2.08,2.08 0 1,0 -4.16,0M273.92,187.00a2.08,2.08 0 1,0 4.16,0a2.08,2.08 0 1,0 -4.16,0M273.92,195.00a2.08,2.08 0 1,0 4.16,0a2.08,2.08 0 1,0 -4.16,0M293.42,187.50a2.08,2.08 0 1,0 4.16,0a2.08,2.08 0 1,0 -4.16,0M296.42,188.50a2.08,2.08 0 1,0 4.16,0a2.08,2.08 0 1,0 -4.16,0M297.92,191.00a2.08,2.08 0 1,0 4.16,0a2.08,2.08 0 1,0 -4.16,0M292.92,193.50a2.08,2.08 0 1,0 4.16,0a2.08,2.08 0 1,0 -4.16,0M297.92,194.50a2.08,2.08 0 1,0 4.16,0a2.08,2.08 0 1,0 -4.16,0M299.92,196.50a2.08,2.08 0 1,0 4.16,0a2.08,2.08 0 1,0 -4.16,0M301.92,199.00a2.08,2.08 0 1,0 4.16,0a2.08,2.08 0 1,0 -4.16,0M303.42,201.50a2.08,2.08 0 1,0 4.16,0a2.08,2.08 0 1,0 -4.16,0M297.42,204.50a2.08,2.08 0 1,0 4.16,0a2.08,2.08 0 1,0 -4.16,0M304.42,204.50a2.08,2.08 0 1,0 4.16,0a2.08,2.08 0 1,0 -4.16,0M305.92,205.50a2.08,2.08 0 1,0 4.16,0a2.08,2.08 0 1,0 -4.16,0M314.42,180.50a2.08,2.08 0 1,0 4.16,0a2.08,2.08 0 1,0 -4.16,0M314.42,191.00a2.08,2.08 0 1,0 4.16,0a2.08,2.08 0 1,0 -4.16,0M314.92,193.00a2.08,2.08 0 1,0 4.16,0a2.08,2.08 0 1,0 -4.16,0M315.42,195.50a2.08,2.08 0 1,0 4.16,0a2.08,2.08 0 1,0 -4.16,0M316.42,206.50a2.08,2.08 0 1,0 4.16,0a2.08,2.08 0 1,0 -4.16,0M310.92,210.00a2.08,2.08 0 1,0 4.16,0a2.08,2.08 0 1,0 -4.16,0M306.92,217.00a2.08,2.08 0 1,0 4.16,0a2.08,2.08 0 1,0 -4.16,0M306.42,220.00a2.08,2.08 0 1,0 4.16,0a2.08,2.08 0 1,0 -4.16,0M312.42,222.50a2.08,2.08 0 1,0 4.16,0a2.08,2.08 0 1,0 -4.16,0M316.42,213.50a2.08,2.08 0 1,0 4.16,0a2.08,2.08 0 1,0 -4.16,0M319.42,216.00a2.08,2.08 0 1,0 4.16,0a2.08,2.08 0 1,0 -4.16,0M320.42,218.50a2.08,2.08 0 1,0 4.16,0a2.08,2.08 0 1,0 -4.16,0M322.92,220.00a2.08,2.08 0 1,0 4.16,0a2.08,2.08 0 1,0 -4.16,0M323.92,222.00a2.08,2.08 0 1,0 4.16,0a2.08,2.08 0 1,0 -4.16,0M321.92,221.00a2.08,2.08 0 1,0 4.16,0a2.08,2.08 0 1,0 -4.16,0M318.92,224.50a2.08,2.08 0 1,0 4.16,0a2.08,2.08 0 1,0 -4.16,0M320.42,225.50a2.08,2.08 0 1,0 4.16,0a2.08,2.08 0 1,0 -4.16,0M329.42,223.00a2.08,2.08 0 1,0 4.16,0a2.08,2.08 0 1,0 -4.16,0M331.42,220.00a2.08,2.08 0 1,0 4.16,0a2.08,2.08 0 1,0 -4.16,0M333.92,216.00a2.08,2.08 0 1,0 4.16,0a2.08,2.08 0 1,0 -4.16,0M334.92,214.00a2.08,2.08 0 1,0 4.16,0a2.08,2.08 0 1,0 -4.16,0M332.92,212.00a2.08,2.08 0 1,0 4.16,0a2.08,2.08 0 1,0 -4.16,0M326.92,219.00a2.08,2.08 0 1,0 4.16,0a2.08,2.08 0 1,0 -4.16,0M328.92,218.00a2.08,2.08 0 1,0 4.16,0a2.08,2.08 0 1,0 -4.16,0M338.42,193.00a2.08,2.08 0 1,0 4.16,0a2.08,2.08 0 1,0 -4.16,0M340.42,190.00a2.08,2.08 0 1,0 4.16,0a2.08,2.08 0 1,0 -4.16,0M342.92,191.50a2.08,2.08 0 1,0 4.16,0a2.08,2.08 0 1,0 -4.16,0M345.92,194.00a2.08,2.08 0 1,0 4.16,0a2.08,2.08 0 1,0 -4.16,0M348.92,195.50a2.08,2.08 0 1,0 4.16,0a2.08,2.08 0 1,0 -4.16,0M334.92,206.50a2.08,2.08 0 1,0 4.16,0a2.08,2.08 0 1,0 -4.16,0M337.92,204.50a2.08,2.08 0 1,0 4.16,0a2.08,2.08 0 1,0 -4.16,0M341.92,203.50a2.08,2.08 0 1,0 4.16,0a2.08,2.08 0 1,0 -4.16,0M344.42,202.00a2.08,2.08 0 1,0 4.16,0a2.08,2.08 0 1,0 -4.16,0M345.92,204.50a2.08,2.08 0 1,0 4.16,0a2.08,2.08 0 1,0 -4.16,0M348.92,205.00a2.08,2.08 0 1,0 4.16,0a2.08,2.08 0 1,0 -4.16,0M351.42,206.50a2.08,2.08 0 1,0 4.16,0a2.08,2.08 0 1,0 -4.16,0M353.42,206.50a2.08,2.08 0 1,0 4.16,0a2.08,2.08 0 1,0 -4.16,0M351.92,209.00a2.08,2.08 0 1,0 4.16,0a2.08,2.08 0 1,0 -4.16,0M353.92,212.00a2.08,2.08 0 1,0 4.16,0a2.08,2.08 0 1,0 -4.16,0M355.92,216.00a2.08,2.08 0 1,0 4.16,0a2.08,2.08 0 1,0 -4.16,0M356.92,219.00a2.08,2.08 0 1,0 4.16,0a2.08,2.08 0 1,0 -4.16,0M349.42,205.50a2.08,2.08 0 1,0 4.16,0a2.08,2.08 0 1,0 -4.16,0M352.42,206.50a2.08,2.08 0 1,0 4.16,0a2.08,2.08 0 1,0 -4.16,0M353.92,212.50a2.08,2.08 0 1,0 4.16,0a2.08,2.08 0 1,0 -4.16,0M355.92,216.50a2.08,2.08 0 1,0 4.16,0a2.08,2.08 0 1,0 -4.16,0M357.92,219.00a2.08,2.08 0 1,0 4.16,0a2.08,2.08 0 1,0 -4.16,0M358.92,220.50a2.08,2.08 0 1,0 4.16,0a2.08,2.08 0 1,0 -4.16,0M367.42,216.00a2.08,2.08 0 1,0 4.16,0a2.08,2.08 0 1,0 -4.16,0M363.42,223.00a2.08,2.08 0 1,0 4.16,0a2.08,2.08 0 1,0 -4.16,0M368.92,222.00a2.08,2.08 0 1,0 4.16,0a2.08,2.08 0 1,0 -4.16,0M372.42,223.00a2.08,2.08 0 1,0 4.16,0a2.08,2.08 0 1,0 -4.16,0M362.42,229.50a2.08,2.08 0 1,0 4.16,0a2.08,2.08 0 1,0 -4.16,0M370.42,227.00a2.08,2.08 0 1,0 4.16,0a2.08,2.08 0 1,0 -4.16,0M372.92,229.00a2.08,2.08 0 1,0 4.16,0a2.08,2.08 0 1,0 -4.16,0M384.42,186.00a2.08,2.08 0 1,0 4.16,0a2.08,2.08 0 1,0 -4.16,0M384.42,199.30a2.08,2.08 0 1,0 4.16,0a2.08,2.08 0 1,0 -4.16,0M385.42,206.00a2.08,2.08 0 1,0 4.16,0a2.08,2.08 0 1,0 -4.16,0M386.42,209.00a2.08,2.08 0 1,0 4.16,0a2.08,2.08 0 1,0 -4.16,0M388.42,210.50a2.08,2.08 0 1,0 4.16,0a2.08,2.08 0 1,0 -4.16,0M386.42,217.00a2.08,2.08 0 1,0 4.16,0a2.08,2.08 0 1,0 -4.16,0M388.92,220.00a2.08,2.08 0 1,0 4.16,0a2.08,2.08 0 1,0 -4.16,0M378.92,220.00a2.08,2.08 0 1,0 4.16,0a2.08,2.08 0 1,0 -4.16,0M381.42,220.50a2.08,2.08 0 1,0 4.16,0a2.08,2.08 0 1,0 -4.16,0M380.42,223.00a2.08,2.08 0 1,0 4.16,0a2.08,2.08 0 1,0 -4.16,0M379.92,225.50a2.08,2.08 0 1,0 4.16,0a2.08,2.08 0 1,0 -4.16,0M390.42,228.00a2.08,2.08 0 1,0 4.16,0a2.08,2.08 0 1,0 -4.16,0M393.92,229.00a2.08,2.08 0 1,0 4.16,0a2.08,2.08 0 1,0 -4.16,0M361.92,230.00a2.08,2.08 0 1,0 4.16,0a2.08,2.08 0 1,0 -4.16,0M360.92,234.00a2.08,2.08 0 1,0 4.16,0a2.08,2.08 0 1,0 -4.16,0M362.42,237.50a2.08,2.08 0 1,0 4.16,0a2.08,2.08 0 1,0 -4.16,0M369.92,225.50a2.08,2.08 0 1,0 4.16,0a2.08,2.08 0 1,0 -4.16,0M371.92,228.50a2.08,2.08 0 1,0 4.16,0a2.08,2.08 0 1,0 -4.16,0M373.42,222.00a2.08,2.08 0 1,0 4.16,0a2.08,2.08 0 1,0 -4.16,0M375.92,231.00a2.08,2.08 0 1,0 4.16,0a2.08,2.08 0 1,0 -4.16,0M376.42,235.00a2.08,2.08 0 1,0 4.16,0a2.08,2.08 0 1,0 -4.16,0M379.92,221.00a2.08,2.08 0 1,0 4.16,0a2.08,2.08 0 1,0 -4.16,0M380.92,224.00a2.08,2.08 0 1,0 4.16,0a2.08,2.08 0 1,0 -4.16,0M379.92,226.00a2.08,2.08 0 1,0 4.16,0a2.08,2.08 0 1,0 -4.16,0M388.92,221.00a2.08,2.08 0 1,0 4.16,0a2.08,2.08 0 1,0 -4.16,0M389.92,228.00a2.08,2.08 0 1,0 4.16,0a2.08,2.08 0 1,0 -4.16,0M393.92,229.50a2.08,2.08 0 1,0 4.16,0a2.08,2.08 0 1,0 -4.16,0M390.42,233.00a2.08,2.08 0 1,0 4.16,0a2.08,2.08 0 1,0 -4.16,0M391.92,237.00a2.08,2.08 0 1,0 4.16,0a2.08,2.08 0 1,0 -4.16,0M393.92,242.00a2.08,2.08 0 1,0 4.16,0a2.08,2.08 0 1,0 -4.16,0M397.92,268.00a2.08,2.08 0 1,0 4.16,0a2.08,2.08 0 1,0 -4.16,0M394.92,273.00a2.08,2.08 0 1,0 4.16,0a2.08,2.08 0 1,0 -4.16,0M398.42,275.00a2.08,2.08 0 1,0 4.16,0a2.08,2.08 0 1,0 -4.16,0M401.92,276.50a2.08,2.08 0 1,0 4.16,0a2.08,2.08 0 1,0 -4.16,0M405.92,277.00a2.08,2.08 0 1,0 4.16,0a2.08,2.08 0 1,0 -4.16,0M408.42,276.00a2.08,2.08 0 1,0 4.16,0a2.08,2.08 0 1,0 -4.16,0M417.92,279.00a2.08,2.08 0 1,0 4.16,0a2.08,2.08 0 1,0 -4.16,0M397.42,268.00a2.08,2.08 0 1,0 4.16,0a2.08,2.08 0 1,0 -4.16,0M394.42,273.00a2.08,2.08 0 1,0 4.16,0a2.08,2.08 0 1,0 -4.16,0M399.92,276.00a2.08,2.08 0 1,0 4.16,0a2.08,2.08 0 1,0 -4.16,0M402.92,275.50a2.08,2.08 0 1,0 4.16,0a2.08,2.08 0 1,0 -4.16,0M403.92,278.50a2.08,2.08 0 1,0 4.16,0a2.08,2.08 0 1,0 -4.16,0M407.92,276.50a2.08,2.08 0 1,0 4.16,0a2.08,2.08 0 1,0 -4.16,0M405.92,280.00a2.08,2.08 0 1,0 4.16,0a2.08,2.08 0 1,0 -4.16,0M408.92,282.00a2.08,2.08 0 1,0 4.16,0a2.08,2.08 0 1,0 -4.16,0M401.92,286.00a2.08,2.08 0 1,0 4.16,0a2.08,2.08 0 1,0 -4.16,0M404.92,287.00a2.08,2.08 0 1,0 4.16,0a2.08,2.08 0 1,0 -4.16,0M407.92,287.50a2.08,2.08 0 1,0 4.16,0a2.08,2.08 0 1,0 -4.16,0M410.42,289.00a2.08,2.08 0 1,0 4.16,0a2.08,2.08 0 1,0 -4.16,0M412.92,288.00a2.08,2.08 0 1,0 4.16,0a2.08,2.08 0 1,0 -4.16,0M414.42,289.00a2.08,2.08 0 1,0 4.16,0a2.08,2.08 0 1,0 -4.16,0M411.92,290.00a2.08,2.08 0 1,0 4.16,0a2.08,2.08 0 1,0 -4.16,0M416.42,293.00a2.08,2.08 0 1,0 4.16,0a2.08,2.08 0 1,0 -4.16,0M417.42,279.00a2.08,2.08 0 1,0 4.16,0a2.08,2.08 0 1,0 -4.16,0M417.92,282.50a2.08,2.08 0 1,0 4.16,0a2.08,2.08 0 1,0 -4.16,0M420.42,284.00a2.08,2.08 0 1,0 4.16,0a2.08,2.08 0 1,0 -4.16,0M422.92,281.50a2.08,2.08 0 1,0 4.16,0a2.08,2.08 0 1,0 -4.16,0M423.42,286.00a2.08,2.08 0 1,0 4.16,0a2.08,2.08 0 1,0 -4.16,0M425.92,288.00a2.08,2.08 0 1,0 4.16,0a2.08,2.08 0 1,0 -4.16,0M425.42,292.00a2.08,2.08 0 1,0 4.16,0a2.08,2.08 0 1,0 -4.16,0M428.42,292.00a2.08,2.08 0 1,0 4.16,0a2.08,2.08 0 1,0 -4.16,0M433.42,288.50a2.08,2.08 0 1,0 4.16,0a2.08,2.08 0 1,0 -4.16,0M434.92,294.00a2.08,2.08 0 1,0 4.16,0a2.08,2.08 0 1,0 -4.16,0M432.42,296.00a2.08,2.08 0 1,0 4.16,0a2.08,2.08 0 1,0 -4.16,0M433.92,298.50a2.08,2.08 0 1,0 4.16,0a2.08,2.08 0 1,0 -4.16,0M435.92,301.00a2.08,2.08 0 1,0 4.16,0a2.08,2.08 0 1,0 -4.16,0M436.92,309.50a2.08,2.08 0 1,0 4.16,0a2.08,2.08 0 1,0 -4.16,0M438.92,307.50a2.08,2.08 0 1,0 4.16,0a2.08,2.08 0 1,0 -4.16,0M441.92,303.00a2.08,2.08 0 1,0 4.16,0a2.08,2.08 0 1,0 -4.16,0M442.92,307.00a2.08,2.08 0 1,0 4.16,0a2.08,2.08 0 1,0 -4.16,0M445.92,309.00a2.08,2.08 0 1,0 4.16,0a2.08,2.08 0 1,0 -4.16,0M448.42,305.50a2.08,2.08 0 1,0 4.16,0a2.08,2.08 0 1,0 -4.16,0M450.92,307.00a2.08,2.08 0 1,0 4.16,0a2.08,2.08 0 1,0 -4.16,0M452.92,305.00a2.08,2.08 0 1,0 4.16,0a2.08,2.08 0 1,0 -4.16,0M454.92,309.00a2.08,2.08 0 1,0 4.16,0a2.08,2.08 0 1,0 -4.16,0M455.92,304.00a2.08,2.08 0 1,0 4.16,0a2.08,2.08 0 1,0 -4.16,0M455.92,298.00a2.08,2.08 0 1,0 4.16,0a2.08,2.08 0 1,0 -4.16,0M458.92,294.00a2.08,2.08 0 1,0 4.16,0a2.08,2.08 0 1,0 -4.16,0M461.92,289.00a2.08,2.08 0 1,0 4.16,0a2.08,2.08 0 1,0 -4.16,0M463.92,287.00a2.08,2.08 0 1,0 4.16,0a2.08,2.08 0 1,0 -4.16,0M466.92,282.00a2.08,2.08 0 1,0 4.16,0a2.08,2.08 0 1,0 -4.16,0M468.92,285.00a2.08,2.08 0 1,0 4.16,0a2.08,2.08 0 1,0 -4.16,0M470.92,285.00a2.08,2.08 0 1,0 4.16,0a2.08,2.08 0 1,0 -4.16,0M472.92,290.00a2.08,2.08 0 1,0 4.16,0a2.08,2.08 0 1,0 -4.16,0M469.42,294.50a2.08,2.08 0 1,0 4.16,0a2.08,2.08 0 1,0 -4.16,0M464.92,290.00a2.08,2.08 0 1,0 4.16,0a2.08,2.08 0 1,0 -4.16,0M461.92,291.00a2.08,2.08 0 1,0 4.16,0a2.08,2.08 0 1,0 -4.16,0M474.92,265.00a2.08,2.08 0 1,0 4.16,0a2.08,2.08 0 1,0 -4.16,0M477.92,267.00a2.08,2.08 0 1,0 4.16,0a2.08,2.08 0 1,0 -4.16,0M480.92,262.00a2.08,2.08 0 1,0 4.16,0a2.08,2.08 0 1,0 -4.16,0M484.92,263.00a2.08,2.08 0 1,0 4.16,0a2.08,2.08 0 1,0 -4.16,0M487.92,264.00a2.08,2.08 0 1,0 4.16,0a2.08,2.08 0 1,0 -4.16,0M491.92,270.00a2.08,2.08 0 1,0 4.16,0a2.08,2.08 0 1,0 -4.16,0M473.92,241.80a2.08,2.08 0 1,0 4.16,0a2.08,2.08 0 1,0 -4.16,0M473.42,258.50a2.08,2.08 0 1,0 4.16,0a2.08,2.08 0 1,0 -4.16,0M476.92,260.00a2.08,2.08 0 1,0 4.16,0a2.08,2.08 0 1,0 -4.16,0M479.92,259.00a2.08,2.08 0 1,0 4.16,0a2.08,2.08 0 1,0 -4.16,0M482.92,260.00a2.08,2.08 0 1,0 4.16,0a2.08,2.08 0 1,0 -4.16,0M485.92,261.00a2.08,2.08 0 1,0 4.16,0a2.08,2.08 0 1,0 -4.16,0M488.92,260.00a2.08,2.08 0 1,0 4.16,0a2.08,2.08 0 1,0 -4.16,0M491.92,259.00a2.08,2.08 0 1,0 4.16,0a2.08,2.08 0 1,0 -4.16,0M480.92,264.00a2.08,2.08 0 1,0 4.16,0a2.08,2.08 0 1,0 -4.16,0M483.92,265.50a2.08,2.08 0 1,0 4.16,0a2.08,2.08 0 1,0 -4.16,0M486.92,265.00a2.08,2.08 0 1,0 4.16,0a2.08,2.08 0 1,0 -4.16,0M489.92,263.00a2.08,2.08 0 1,0 4.16,0a2.08,2.08 0 1,0 -4.16,0M492.92,265.00a2.08,2.08 0 1,0 4.16,0a2.08,2.08 0 1,0 -4.16,0M493.92,268.00a2.08,2.08 0 1,0 4.16,0a2.08,2.08 0 1,0 -4.16,0M493.42,270.00a2.08,2.08 0 1,0 4.16,0a2.08,2.08 0 1,0 -4.16,0M495.92,269.00a2.08,2.08 0 1,0 4.16,0a2.08,2.08 0 1,0 -4.16,0M496.92,272.00a2.08,2.08 0 1,0 4.16,0a2.08,2.08 0 1,0 -4.16,0M497.92,274.00a2.08,2.08 0 1,0 4.16,0a2.08,2.08 0 1,0 -4.16,0M497.92,279.00a2.08,2.08 0 1,0 4.16,0a2.08,2.08 0 1,0 -4.16,0M499.92,282.00a2.08,2.08 0 1,0 4.16,0a2.08,2.08 0 1,0 -4.16,0M502.92,281.00a2.08,2.08 0 1,0 4.16,0a2.08,2.08 0 1,0 -4.16,0M501.92,285.00a2.08,2.08 0 1,0 4.16,0a2.08,2.08 0 1,0 -4.16,0M504.92,287.50a2.08,2.08 0 1,0 4.16,0a2.08,2.08 0 1,0 -4.16,0M506.92,289.00a2.08,2.08 0 1,0 4.16,0a2.08,2.08 0 1,0 -4.16,0M468.92,282.00a2.08,2.08 0 1,0 4.16,0a2.08,2.08 0 1,0 -4.16,0M470.92,285.00a2.08,2.08 0 1,0 4.16,0a2.08,2.08 0 1,0 -4.16,0M472.92,288.50a2.08,2.08 0 1,0 4.16,0a2.08,2.08 0 1,0 -4.16,0M520.92,287.00a2.08,2.08 0 1,0 4.16,0a2.08,2.08 0 1,0 -4.16,0M523.92,284.50a2.08,2.08 0 1,0 4.16,0a2.08,2.08 0 1,0 -4.16,0M526.92,284.00a2.08,2.08 0 1,0 4.16,0a2.08,2.08 0 1,0 -4.16,0M529.92,285.50a2.08,2.08 0 1,0 4.16,0a2.08,2.08 0 1,0 -4.16,0M532.92,289.00a2.08,2.08 0 1,0 4.16,0a2.08,2.08 0 1,0 -4.16,0M535.92,289.50a2.08,2.08 0 1,0 4.16,0a2.08,2.08 0 1,0 -4.16,0M561.42,250.50a2.08,2.08 0 1,0 4.16,0a2.08,2.08 0 1,0 -4.16,0M563.42,253.50a2.08,2.08 0 1,0 4.16,0a2.08,2.08 0 1,0 -4.16,0M565.92,263.00a2.08,2.08 0 1,0 4.16,0a2.08,2.08 0 1,0 -4.16,0M561.92,266.50a2.08,2.08 0 1,0 4.16,0a2.08,2.08 0 1,0 -4.16,0M563.92,269.00a2.08,2.08 0 1,0 4.16,0a2.08,2.08 0 1,0 -4.16,0M565.92,272.00a2.08,2.08 0 1,0 4.16,0a2.08,2.08 0 1,0 -4.16,0M566.92,275.00a2.08,2.08 0 1,0 4.16,0a2.08,2.08 0 1,0 -4.16,0M567.42,286.50a2.08,2.08 0 1,0 4.16,0a2.08,2.08 0 1,0 -4.16,0M468.92,285.00a2.08,2.08 0 1,0 4.16,0a2.08,2.08 0 1,0 -4.16,0M470.92,287.00a2.08,2.08 0 1,0 4.16,0a2.08,2.08 0 1,0 -4.16,0M472.42,290.00a2.08,2.08 0 1,0 4.16,0a2.08,2.08 0 1,0 -4.16,0M469.92,293.00a2.08,2.08 0 1,0 4.16,0a2.08,2.08 0 1,0 -4.16,0M468.92,295.00a2.08,2.08 0 1,0 4.16,0a2.08,2.08 0 1,0 -4.16,0M498.92,282.00a2.08,2.08 0 1,0 4.16,0a2.08,2.08 0 1,0 -4.16,0M500.92,285.00a2.08,2.08 0 1,0 4.16,0a2.08,2.08 0 1,0 -4.16,0M503.92,288.00a2.08,2.08 0 1,0 4.16,0a2.08,2.08 0 1,0 -4.16,0M506.42,289.50a2.08,2.08 0 1,0 4.16,0a2.08,2.08 0 1,0 -4.16,0M504.42,291.00a2.08,2.08 0 1,0 4.16,0a2.08,2.08 0 1,0 -4.16,0M506.92,298.50a2.08,2.08 0 1,0 4.16,0a2.08,2.08 0 1,0 -4.16,0M507.42,311.00a2.08,2.08 0 1,0 4.16,0a2.08,2.08 0 1,0 -4.16,0M512.42,310.00a2.08,2.08 0 1,0 4.16,0a2.08,2.08 0 1,0 -4.16,0M514.92,312.00a2.08,2.08 0 1,0 4.16,0a2.08,2.08 0 1,0 -4.16,0M516.92,310.50a2.08,2.08 0 1,0 4.16,0a2.08,2.08 0 1,0 -4.16,0M516.92,304.00a2.08,2.08 0 1,0 4.16,0a2.08,2.08 0 1,0 -4.16,0M518.42,297.50a2.08,2.08 0 1,0 4.16,0a2.08,2.08 0 1,0 -4.16,0M518.92,295.00a2.08,2.08 0 1,0 4.16,0a2.08,2.08 0 1,0 -4.16,0M519.92,292.00a2.08,2.08 0 1,0 4.16,0a2.08,2.08 0 1,0 -4.16,0M528.92,293.00a2.08,2.08 0 1,0 4.16,0a2.08,2.08 0 1,0 -4.16,0M531.92,290.00a2.08,2.08 0 1,0 4.16,0a2.08,2.08 0 1,0 -4.16,0M533.92,293.00a2.08,2.08 0 1,0 4.16,0a2.08,2.08 0 1,0 -4.16,0M536.92,291.00a2.08,2.08 0 1,0 4.16,0a2.08,2.08 0 1,0 -4.16,0M538.92,293.00a2.08,2.08 0 1,0 4.16,0a2.08,2.08 0 1,0 -4.16,0M541.92,297.00a2.08,2.08 0 1,0 4.16,0a2.08,2.08 0 1,0 -4.16,0M543.92,300.00a2.08,2.08 0 1,0 4.16,0a2.08,2.08 0 1,0 -4.16,0M545.92,294.00a2.08,2.08 0 1,0 4.16,0a2.08,2.08 0 1,0 -4.16,0M548.92,294.50a2.08,2.08 0 1,0 4.16,0a2.08,2.08 0 1,0 -4.16,0M546.92,300.00a2.08,2.08 0 1,0 4.16,0a2.08,2.08 0 1,0 -4.16,0M548.92,303.00a2.08,2.08 0 1,0 4.16,0a2.08,2.08 0 1,0 -4.16,0M546.92,306.00a2.08,2.08 0 1,0 4.16,0a2.08,2.08 0 1,0 -4.16,0M550.92,305.00a2.08,2.08 0 1,0 4.16,0a2.08,2.08 0 1,0 -4.16,0M553.92,301.00a2.08,2.08 0 1,0 4.16,0a2.08,2.08 0 1,0 -4.16,0M555.92,298.00a2.08,2.08 0 1,0 4.16,0a2.08,2.08 0 1,0 -4.16,0M557.92,302.00a2.08,2.08 0 1,0 4.16,0a2.08,2.08 0 1,0 -4.16,0M558.92,294.00a2.08,2.08 0 1,0 4.16,0a2.08,2.08 0 1,0 -4.16,0M560.92,297.00a2.08,2.08 0 1,0 4.16,0a2.08,2.08 0 1,0 -4.16,0M566.92,287.00a2.08,2.08 0 1,0 4.16,0a2.08,2.08 0 1,0 -4.16,0M511.42,323.50a2.08,2.08 0 1,0 4.16,0a2.08,2.08 0 1,0 -4.16,0M511.42,334.50a2.08,2.08 0 1,0 4.16,0a2.08,2.08 0 1,0 -4.16,0M510.42,346.50a2.08,2.08 0 1,0 4.16,0a2.08,2.08 0 1,0 -4.16,0M509.42,364.30a2.08,2.08 0 1,0 4.16,0a2.08,2.08 0 1,0 -4.16,0M553.32,518.40a2.08,2.08 0 1,0 4.16,0a2.08,2.08 0 1,0 -4.16,0M585.42,255.00a2.08,2.08 0 1,0 4.16,0a2.08,2.08 0 1,0 -4.16,0M566.42,263.00a2.08,2.08 0 1,0 4.16,0a2.08,2.08 0 1,0 -4.16,0M561.92,266.00a2.08,2.08 0 1,0 4.16,0a2.08,2.08 0 1,0 -4.16,0M563.42,269.00a2.08,2.08 0 1,0 4.16,0a2.08,2.08 0 1,0 -4.16,0M566.92,270.00a2.08,2.08 0 1,0 4.16,0a2.08,2.08 0 1,0 -4.16,0M567.42,274.00a2.08,2.08 0 1,0 4.16,0a2.08,2.08 0 1,0 -4.16,0M575.92,264.00a2.08,2.08 0 1,0 4.16,0a2.08,2.08 0 1,0 -4.16,0M577.42,265.50a2.08,2.08 0 1,0 4.16,0a2.08,2.08 0 1,0 -4.16,0M574.92,268.00a2.08,2.08 0 1,0 4.16,0a2.08,2.08 0 1,0 -4.16,0M570.92,279.50a2.08,2.08 0 1,0 4.16,0a2.08,2.08 0 1,0 -4.16,0M573.92,278.00a2.08,2.08 0 1,0 4.16,0a2.08,2.08 0 1,0 -4.16,0M577.42,277.00a2.08,2.08 0 1,0 4.16,0a2.08,2.08 0 1,0 -4.16,0M580.42,278.00a2.08,2.08 0 1,0 4.16,0a2.08,2.08 0 1,0 -4.16,0M579.92,280.00a2.08,2.08 0 1,0 4.16,0a2.08,2.08 0 1,0 -4.16,0M582.92,274.00a2.08,2.08 0 1,0 4.16,0a2.08,2.08 0 1,0 -4.16,0M584.92,271.00a2.08,2.08 0 1,0 4.16,0a2.08,2.08 0 1,0 -4.16,0M586.92,269.00a2.08,2.08 0 1,0 4.16,0a2.08,2.08 0 1,0 -4.16,0M588.92,267.00a2.08,2.08 0 1,0 4.16,0a2.08,2.08 0 1,0 -4.16,0M589.92,263.50a2.08,2.08 0 1,0 4.16,0a2.08,2.08 0 1,0 -4.16,0M592.42,262.00a2.08,2.08 0 1,0 4.16,0a2.08,2.08 0 1,0 -4.16,0M594.42,261.00a2.08,2.08 0 1,0 4.16,0a2.08,2.08 0 1,0 -4.16,0M597.92,259.00a2.08,2.08 0 1,0 4.16,0a2.08,2.08 0 1,0 -4.16,0M593.42,266.50a2.08,2.08 0 1,0 4.16,0a2.08,2.08 0 1,0 -4.16,0M595.92,265.50a2.08,2.08 0 1,0 4.16,0a2.08,2.08 0 1,0 -4.16,0M597.92,270.00a2.08,2.08 0 1,0 4.16,0a2.08,2.08 0 1,0 -4.16,0M599.42,273.00a2.08,2.08 0 1,0 4.16,0a2.08,2.08 0 1,0 -4.16,0M599.92,280.00a2.08,2.08 0 1,0 4.16,0a2.08,2.08 0 1,0 -4.16,0M601.92,282.00a2.08,2.08 0 1,0 4.16,0a2.08,2.08 0 1,0 -4.16,0M604.42,289.00a2.08,2.08 0 1,0 4.16,0a2.08,2.08 0 1,0 -4.16,0M607.42,284.00a2.08,2.08 0 1,0 4.16,0a2.08,2.08 0 1,0 -4.16,0M618.92,265.00a2.08,2.08 0 1,0 4.16,0a2.08,2.08 0 1,0 -4.16,0M612.92,271.00a2.08,2.08 0 1,0 4.16,0a2.08,2.08 0 1,0 -4.16,0M612.42,274.00a2.08,2.08 0 1,0 4.16,0a2.08,2.08 0 1,0 -4.16,0M615.42,273.00a2.08,2.08 0 1,0 4.16,0a2.08,2.08 0 1,0 -4.16,0M618.92,272.00a2.08,2.08 0 1,0 4.16,0a2.08,2.08 0 1,0 -4.16,0M621.92,271.00a2.08,2.08 0 1,0 4.16,0a2.08,2.08 0 1,0 -4.16,0M622.92,273.50a2.08,2.08 0 1,0 4.16,0a2.08,2.08 0 1,0 -4.16,0M627.42,276.00a2.08,2.08 0 1,0 4.16,0a2.08,2.08 0 1,0 -4.16,0M628.92,280.00a2.08,2.08 0 1,0 4.16,0a2.08,2.08 0 1,0 -4.16,0M631.92,284.00a2.08,2.08 0 1,0 4.16,0a2.08,2.08 0 1,0 -4.16,0M627.92,286.00a2.08,2.08 0 1,0 4.16,0a2.08,2.08 0 1,0 -4.16,0M623.92,289.00a2.08,2.08 0 1,0 4.16,0a2.08,2.08 0 1,0 -4.16,0M625.92,287.00a2.08,2.08 0 1,0 4.16,0a2.08,2.08 0 1,0 -4.16,0M631.92,309.50a2.08,2.08 0 1,0 4.16,0a2.08,2.08 0 1,0 -4.16,0M633.92,311.00a2.08,2.08 0 1,0 4.16,0a2.08,2.08 0 1,0 -4.16,0M636.92,312.00a2.08,2.08 0 1,0 4.16,0a2.08,2.08 0 1,0 -4.16,0M639.92,310.00a2.08,2.08 0 1,0 4.16,0a2.08,2.08 0 1,0 -4.16,0M642.92,311.00a2.08,2.08 0 1,0 4.16,0a2.08,2.08 0 1,0 -4.16,0M645.92,312.00a2.08,2.08 0 1,0 4.16,0a2.08,2.08 0 1,0 -4.16,0M648.92,312.00a2.08,2.08 0 1,0 4.16,0a2.08,2.08 0 1,0 -4.16,0M651.92,311.00a2.08,2.08 0 1,0 4.16,0a2.08,2.08 0 1,0 -4.16,0M654.92,310.50a2.08,2.08 0 1,0 4.16,0a2.08,2.08 0 1,0 -4.16,0M657.92,310.00a2.08,2.08 0 1,0 4.16,0a2.08,2.08 0 1,0 -4.16,0M659.92,310.00a2.08,2.08 0 1,0 4.16,0a2.08,2.08 0 1,0 -4.16,0M661.92,310.00a2.08,2.08 0 1,0 4.16,0a2.08,2.08 0 1,0 -4.16,0M665.42,309.00a2.08,2.08 0 1,0 4.16,0a2.08,2.08 0 1,0 -4.16,0M635.42,311.50a2.08,2.08 0 1,0 4.16,0a2.08,2.08 0 1,0 -4.16,0M638.42,311.00a2.08,2.08 0 1,0 4.16,0a2.08,2.08 0 1,0 -4.16,0M641.42,311.50a2.08,2.08 0 1,0 4.16,0a2.08,2.08 0 1,0 -4.16,0M644.42,311.50a2.08,2.08 0 1,0 4.16,0a2.08,2.08 0 1,0 -4.16,0M647.42,312.00a2.08,2.08 0 1,0 4.16,0a2.08,2.08 0 1,0 -4.16,0M650.42,311.50a2.08,2.08 0 1,0 4.16,0a2.08,2.08 0 1,0 -4.16,0M653.42,311.00a2.08,2.08 0 1,0 4.16,0a2.08,2.08 0 1,0 -4.16,0M656.42,310.50a2.08,2.08 0 1,0 4.16,0a2.08,2.08 0 1,0 -4.16,0M658.92,310.00a2.08,2.08 0 1,0 4.16,0a2.08,2.08 0 1,0 -4.16,0M660.92,310.00a2.08,2.08 0 1,0 4.16,0a2.08,2.08 0 1,0 -4.16,0M663.42,309.50a2.08,2.08 0 1,0 4.16,0a2.08,2.08 0 1,0 -4.16,0M667.42,313.00a2.08,2.08 0 1,0 4.16,0a2.08,2.08 0 1,0 -4.16,0M668.42,315.50a2.08,2.08 0 1,0 4.16,0a2.08,2.08 0 1,0 -4.16,0M668.92,323.00a2.08,2.08 0 1,0 4.16,0a2.08,2.08 0 1,0 -4.16,0M669.92,324.00a2.08,2.08 0 1,0 4.16,0a2.08,2.08 0 1,0 -4.16,0M670.92,331.00a2.08,2.08 0 1,0 4.16,0a2.08,2.08 0 1,0 -4.16,0M674.42,335.00a2.08,2.08 0 1,0 4.16,0a2.08,2.08 0 1,0 -4.16,0M676.92,332.00a2.08,2.08 0 1,0 4.16,0a2.08,2.08 0 1,0 -4.16,0M677.92,329.00a2.08,2.08 0 1,0 4.16,0a2.08,2.08 0 1,0 -4.16,0M679.92,327.00a2.08,2.08 0 1,0 4.16,0a2.08,2.08 0 1,0 -4.16,0M682.92,324.50a2.08,2.08 0 1,0 4.16,0a2.08,2.08 0 1,0 -4.16,0M684.92,325.00a2.08,2.08 0 1,0 4.16,0a2.08,2.08 0 1,0 -4.16,0M686.42,329.00a2.08,2.08 0 1,0 4.16,0a2.08,2.08 0 1,0 -4.16,0M688.42,335.00a2.08,2.08 0 1,0 4.16,0a2.08,2.08 0 1,0 -4.16,0M689.92,337.00a2.08,2.08 0 1,0 4.16,0a2.08,2.08 0 1,0 -4.16,0M693.92,339.00a2.08,2.08 0 1,0 4.16,0a2.08,2.08 0 1,0 -4.16,0M696.92,339.00a2.08,2.08 0 1,0 4.16,0a2.08,2.08 0 1,0 -4.16,0M706.92,339.50a2.08,2.08 0 1,0 4.16,0a2.08,2.08 0 1,0 -4.16,0M709.92,339.50a2.08,2.08 0 1,0 4.16,0a2.08,2.08 0 1,0 -4.16,0M670.42,344.00a2.08,2.08 0 1,0 4.16,0a2.08,2.08 0 1,0 -4.16,0M672.42,352.00a2.08,2.08 0 1,0 4.16,0a2.08,2.08 0 1,0 -4.16,0M674.92,335.00a2.08,2.08 0 1,0 4.16,0a2.08,2.08 0 1,0 -4.16,0M676.42,332.00a2.08,2.08 0 1,0 4.16,0a2.08,2.08 0 1,0 -4.16,0M677.92,329.00a2.08,2.08 0 1,0 4.16,0a2.08,2.08 0 1,0 -4.16,0M679.42,327.00a2.08,2.08 0 1,0 4.16,0a2.08,2.08 0 1,0 -4.16,0M681.92,325.00a2.08,2.08 0 1,0 4.16,0a2.08,2.08 0 1,0 -4.16,0M684.42,324.50a2.08,2.08 0 1,0 4.16,0a2.08,2.08 0 1,0 -4.16,0M675.42,339.00a2.08,2.08 0 1,0 4.16,0a2.08,2.08 0 1,0 -4.16,0M675.92,341.50a2.08,2.08 0 1,0 4.16,0a2.08,2.08 0 1,0 -4.16,0M692.42,338.50a2.08,2.08 0 1,0 4.16,0a2.08,2.08 0 1,0 -4.16,0M694.92,340.00a2.08,2.08 0 1,0 4.16,0a2.08,2.08 0 1,0 -4.16,0M695.92,343.00a2.08,2.08 0 1,0 4.16,0a2.08,2.08 0 1,0 -4.16,0M696.92,346.00a2.08,2.08 0 1,0 4.16,0a2.08,2.08 0 1,0 -4.16,0M697.92,350.00a2.08,2.08 0 1,0 4.16,0a2.08,2.08 0 1,0 -4.16,0M698.42,353.00a2.08,2.08 0 1,0 4.16,0a2.08,2.08 0 1,0 -4.16,0M700.92,350.00a2.08,2.08 0 1,0 4.16,0a2.08,2.08 0 1,0 -4.16,0M702.42,345.00a2.08,2.08 0 1,0 4.16,0a2.08,2.08 0 1,0 -4.16,0M704.92,342.00a2.08,2.08 0 1,0 4.16,0a2.08,2.08 0 1,0 -4.16,0M706.92,340.00a2.08,2.08 0 1,0 4.16,0a2.08,2.08 0 1,0 -4.16,0M709.92,340.00a2.08,2.08 0 1,0 4.16,0a2.08,2.08 0 1,0 -4.16,0M711.92,341.50a2.08,2.08 0 1,0 4.16,0a2.08,2.08 0 1,0 -4.16,0M708.92,345.00a2.08,2.08 0 1,0 4.16,0a2.08,2.08 0 1,0 -4.16,0M706.92,346.00a2.08,2.08 0 1,0 4.16,0a2.08,2.08 0 1,0 -4.16,0M714.42,344.00a2.08,2.08 0 1,0 4.16,0a2.08,2.08 0 1,0 -4.16,0M716.42,347.00a2.08,2.08 0 1,0 4.16,0a2.08,2.08 0 1,0 -4.16,0M717.92,350.00a2.08,2.08 0 1,0 4.16,0a2.08,2.08 0 1,0 -4.16,0M719.92,350.00a2.08,2.08 0 1,0 4.16,0a2.08,2.08 0 1,0 -4.16,0M721.92,351.00a2.08,2.08 0 1,0 4.16,0a2.08,2.08 0 1,0 -4.16,0M721.92,355.50a2.08,2.08 0 1,0 4.16,0a2.08,2.08 0 1,0 -4.16,0M723.92,358.00a2.08,2.08 0 1,0 4.16,0a2.08,2.08 0 1,0 -4.16,0M724.92,361.00a2.08,2.08 0 1,0 4.16,0a2.08,2.08 0 1,0 -4.16,0M723.92,364.00a2.08,2.08 0 1,0 4.16,0a2.08,2.08 0 1,0 -4.16,0M726.92,362.00a2.08,2.08 0 1,0 4.16,0a2.08,2.08 0 1,0 -4.16,0M728.92,364.00a2.08,2.08 0 1,0 4.16,0a2.08,2.08 0 1,0 -4.16,0M730.92,359.00a2.08,2.08 0 1,0 4.16,0a2.08,2.08 0 1,0 -4.16,0M733.42,359.00a2.08,2.08 0 1,0 4.16,0a2.08,2.08 0 1,0 -4.16,0M736.42,359.50a2.08,2.08 0 1,0 4.16,0a2.08,2.08 0 1,0 -4.16,0M733.92,361.00a2.08,2.08 0 1,0 4.16,0a2.08,2.08 0 1,0 -4.16,0M737.92,348.00a2.08,2.08 0 1,0 4.16,0a2.08,2.08 0 1,0 -4.16,0M737.92,352.00a2.08,2.08 0 1,0 4.16,0a2.08,2.08 0 1,0 -4.16,0M740.92,350.00a2.08,2.08 0 1,0 4.16,0a2.08,2.08 0 1,0 -4.16,0M743.92,350.00a2.08,2.08 0 1,0 4.16,0a2.08,2.08 0 1,0 -4.16,0M745.92,351.00a2.08,2.08 0 1,0 4.16,0a2.08,2.08 0 1,0 -4.16,0M747.92,353.00a2.08,2.08 0 1,0 4.16,0a2.08,2.08 0 1,0 -4.16,0M749.92,349.50a2.08,2.08 0 1,0 4.16,0a2.08,2.08 0 1,0 -4.16,0M752.92,349.00a2.08,2.08 0 1,0 4.16,0a2.08,2.08 0 1,0 -4.16,0M755.92,348.00a2.08,2.08 0 1,0 4.16,0a2.08,2.08 0 1,0 -4.16,0M757.92,348.00a2.08,2.08 0 1,0 4.16,0a2.08,2.08 0 1,0 -4.16,0M772.42,289.50a2.08,2.08 0 1,0 4.16,0a2.08,2.08 0 1,0 -4.16,0M772.92,306.50a2.08,2.08 0 1,0 4.16,0a2.08,2.08 0 1,0 -4.16,0M776.42,305.00a2.08,2.08 0 1,0 4.16,0a2.08,2.08 0 1,0 -4.16,0M781.92,306.00a2.08,2.08 0 1,0 4.16,0a2.08,2.08 0 1,0 -4.16,0M772.42,313.00a2.08,2.08 0 1,0 4.16,0a2.08,2.08 0 1,0 -4.16,0M776.42,313.00a2.08,2.08 0 1,0 4.16,0a2.08,2.08 0 1,0 -4.16,0M778.92,310.00a2.08,2.08 0 1,0 4.16,0a2.08,2.08 0 1,0 -4.16,0M782.42,310.00a2.08,2.08 0 1,0 4.16,0a2.08,2.08 0 1,0 -4.16,0M784.92,312.00a2.08,2.08 0 1,0 4.16,0a2.08,2.08 0 1,0 -4.16,0M787.42,313.00a2.08,2.08 0 1,0 4.16,0a2.08,2.08 0 1,0 -4.16,0M775.92,309.00a2.08,2.08 0 1,0 4.16,0a2.08,2.08 0 1,0 -4.16,0M789.42,319.50a2.08,2.08 0 1,0 4.16,0a2.08,2.08 0 1,0 -4.16,0M770.42,327.00a2.08,2.08 0 1,0 4.16,0a2.08,2.08 0 1,0 -4.16,0M771.92,329.00a2.08,2.08 0 1,0 4.16,0a2.08,2.08 0 1,0 -4.16,0M767.92,332.00a2.08,2.08 0 1,0 4.16,0a2.08,2.08 0 1,0 -4.16,0M767.42,338.50a2.08,2.08 0 1,0 4.16,0a2.08,2.08 0 1,0 -4.16,0M789.92,328.00a2.08,2.08 0 1,0 4.16,0a2.08,2.08 0 1,0 -4.16,0M792.92,330.00a2.08,2.08 0 1,0 4.16,0a2.08,2.08 0 1,0 -4.16,0M795.92,329.50a2.08,2.08 0 1,0 4.16,0a2.08,2.08 0 1,0 -4.16,0M796.42,335.00a2.08,2.08 0 1,0 4.16,0a2.08,2.08 0 1,0 -4.16,0M790.92,337.00a2.08,2.08 0 1,0 4.16,0a2.08,2.08 0 1,0 -4.16,0M793.92,333.00a2.08,2.08 0 1,0 4.16,0a2.08,2.08 0 1,0 -4.16,0M792.42,331.00a2.08,2.08 0 1,0 4.16,0a2.08,2.08 0 1,0 -4.16,0M809.92,328.00a2.08,2.08 0 1,0 4.16,0a2.08,2.08 0 1,0 -4.16,0M807.92,330.00a2.08,2.08 0 1,0 4.16,0a2.08,2.08 0 1,0 -4.16,0M804.92,335.00a2.08,2.08 0 1,0 4.16,0a2.08,2.08 0 1,0 -4.16,0M801.92,339.00a2.08,2.08 0 1,0 4.16,0a2.08,2.08 0 1,0 -4.16,0M807.92,338.00a2.08,2.08 0 1,0 4.16,0a2.08,2.08 0 1,0 -4.16,0M813.92,334.00a2.08,2.08 0 1,0 4.16,0a2.08,2.08 0 1,0 -4.16,0M819.42,333.00a2.08,2.08 0 1,0 4.16,0a2.08,2.08 0 1,0 -4.16,0M818.92,336.00a2.08,2.08 0 1,0 4.16,0a2.08,2.08 0 1,0 -4.16,0M816.92,338.00a2.08,2.08 0 1,0 4.16,0a2.08,2.08 0 1,0 -4.16,0M815.92,340.00a2.08,2.08 0 1,0 4.16,0a2.08,2.08 0 1,0 -4.16,0M740.92,350.00a2.08,2.08 0 1,0 4.16,0a2.08,2.08 0 1,0 -4.16,0M743.92,351.50a2.08,2.08 0 1,0 4.16,0a2.08,2.08 0 1,0 -4.16,0M746.92,352.00a2.08,2.08 0 1,0 4.16,0a2.08,2.08 0 1,0 -4.16,0M749.92,350.00a2.08,2.08 0 1,0 4.16,0a2.08,2.08 0 1,0 -4.16,0M758.92,347.50a2.08,2.08 0 1,0 4.16,0a2.08,2.08 0 1,0 -4.16,0M761.92,346.00a2.08,2.08 0 1,0 4.16,0a2.08,2.08 0 1,0 -4.16,0M763.92,343.00a2.08,2.08 0 1,0 4.16,0a2.08,2.08 0 1,0 -4.16,0M765.92,340.00a2.08,2.08 0 1,0 4.16,0a2.08,2.08 0 1,0 -4.16,0M767.42,337.50a2.08,2.08 0 1,0 4.16,0a2.08,2.08 0 1,0 -4.16,0M767.92,332.50a2.08,2.08 0 1,0 4.16,0a2.08,2.08 0 1,0 -4.16,0M769.92,331.00a2.08,2.08 0 1,0 4.16,0a2.08,2.08 0 1,0 -4.16,0M737.92,359.50a2.08,2.08 0 1,0 4.16,0a2.08,2.08 0 1,0 -4.16,0M789.92,343.50a2.08,2.08 0 1,0 4.16,0a2.08,2.08 0 1,0 -4.16,0M790.92,337.50a2.08,2.08 0 1,0 4.16,0a2.08,2.08 0 1,0 -4.16,0M793.42,334.00a2.08,2.08 0 1,0 4.16,0a2.08,2.08 0 1,0 -4.16,0M798.92,341.50a2.08,2.08 0 1,0 4.16,0a2.08,2.08 0 1,0 -4.16,0M801.92,343.00a2.08,2.08 0 1,0 4.16,0a2.08,2.08 0 1,0 -4.16,0M804.42,339.00a2.08,2.08 0 1,0 4.16,0a2.08,2.08 0 1,0 -4.16,0M803.92,336.00a2.08,2.08 0 1,0 4.16,0a2.08,2.08 0 1,0 -4.16,0M807.92,331.00a2.08,2.08 0 1,0 4.16,0a2.08,2.08 0 1,0 -4.16,0M812.92,342.00a2.08,2.08 0 1,0 4.16,0a2.08,2.08 0 1,0 -4.16,0M813.92,345.00a2.08,2.08 0 1,0 4.16,0a2.08,2.08 0 1,0 -4.16,0M815.92,346.00a2.08,2.08 0 1,0 4.16,0a2.08,2.08 0 1,0 -4.16,0M818.92,334.00a2.08,2.08 0 1,0 4.16,0a2.08,2.08 0 1,0 -4.16,0M817.92,338.00a2.08,2.08 0 1,0 4.16,0a2.08,2.08 0 1,0 -4.16,0M820.42,343.00a2.08,2.08 0 1,0 4.16,0a2.08,2.08 0 1,0 -4.16,0M822.92,345.00a2.08,2.08 0 1,0 4.16,0a2.08,2.08 0 1,0 -4.16,0M823.92,350.00a2.08,2.08 0 1,0 4.16,0a2.08,2.08 0 1,0 -4.16,0M823.42,354.50a2.08,2.08 0 1,0 4.16,0a2.08,2.08 0 1,0 -4.16,0M827.92,349.00a2.08,2.08 0 1,0 4.16,0a2.08,2.08 0 1,0 -4.16,0M830.92,349.00a2.08,2.08 0 1,0 4.16,0a2.08,2.08 0 1,0 -4.16,0M832.92,351.00a2.08,2.08 0 1,0 4.16,0a2.08,2.08 0 1,0 -4.16,0M834.92,355.00a2.08,2.08 0 1,0 4.16,0a2.08,2.08 0 1,0 -4.16,0M836.42,357.00a2.08,2.08 0 1,0 4.16,0a2.08,2.08 0 1,0 -4.16,0M837.92,358.00a2.08,2.08 0 1,0 4.16,0a2.08,2.08 0 1,0 -4.16,0M847.42,321.50a2.08,2.08 0 1,0 4.16,0a2.08,2.08 0 1,0 -4.16,0M849.42,290.50a2.08,2.08 0 1,0 4.16,0a2.08,2.08 0 1,0 -4.16,0M819.42,333.00a2.08,2.08 0 1,0 4.16,0a2.08,2.08 0 1,0 -4.16,0M818.92,337.50a2.08,2.08 0 1,0 4.16,0a2.08,2.08 0 1,0 -4.16,0M820.92,343.00a2.08,2.08 0 1,0 4.16,0a2.08,2.08 0 1,0 -4.16,0M821.92,350.00a2.08,2.08 0 1,0 4.16,0a2.08,2.08 0 1,0 -4.16,0M825.92,350.00a2.08,2.08 0 1,0 4.16,0a2.08,2.08 0 1,0 -4.16,0M828.92,349.00a2.08,2.08 0 1,0 4.16,0a2.08,2.08 0 1,0 -4.16,0M831.92,350.00a2.08,2.08 0 1,0 4.16,0a2.08,2.08 0 1,0 -4.16,0M833.92,353.00a2.08,2.08 0 1,0 4.16,0a2.08,2.08 0 1,0 -4.16,0M835.42,356.00a2.08,2.08 0 1,0 4.16,0a2.08,2.08 0 1,0 -4.16,0M839.42,352.00a2.08,2.08 0 1,0 4.16,0a2.08,2.08 0 1,0 -4.16,0M841.92,348.00a2.08,2.08 0 1,0 4.16,0a2.08,2.08 0 1,0 -4.16,0M844.92,348.00a2.08,2.08 0 1,0 4.16,0a2.08,2.08 0 1,0 -4.16,0M847.42,350.00a2.08,2.08 0 1,0 4.16,0a2.08,2.08 0 1,0 -4.16,0M847.92,352.50a2.08,2.08 0 1,0 4.16,0a2.08,2.08 0 1,0 -4.16,0M850.72,275.80a2.08,2.08 0 1,0 4.16,0a2.08,2.08 0 1,0 -4.16,0M851.82,276.20a2.08,2.08 0 1,0 4.16,0a2.08,2.08 0 1,0 -4.16,0M852.92,275.60a2.08,2.08 0 1,0 4.16,0a2.08,2.08 0 1,0 -4.16,0M854.02,275.90a2.08,2.08 0 1,0 4.16,0a2.08,2.08 0 1,0 -4.16,0M855.12,276.40a2.08,2.08 0 1,0 4.16,0a2.08,2.08 0 1,0 -4.16,0M856.22,275.70a2.08,2.08 0 1,0 4.16,0a2.08,2.08 0 1,0 -4.16,0M857.32,276.00a2.08,2.08 0 1,0 4.16,0a2.08,2.08 0 1,0 -4.16,0M858.42,276.50a2.08,2.08 0 1,0 4.16,0a2.08,2.08 0 1,0 -4.16,0M859.52,275.80a2.08,2.08 0 1,0 4.16,0a2.08,2.08 0 1,0 -4.16,0M860.62,276.20a2.08,2.08 0 1,0 4.16,0a2.08,2.08 0 1,0 -4.16,0M861.72,276.60a2.08,2.08 0 1,0 4.16,0a2.08,2.08 0 1,0 -4.16,0M862.82,275.90a2.08,2.08 0 1,0 4.16,0a2.08,2.08 0 1,0 -4.16,0M863.92,276.30a2.08,2.08 0 1,0 4.16,0a2.08,2.08 0 1,0 -4.16,0M865.02,276.70a2.08,2.08 0 1,0 4.16,0a2.08,2.08 0 1,0 -4.16,0M866.12,276.10a2.08,2.08 0 1,0 4.16,0a2.08,2.08 0 1,0 -4.16,0M867.22,276.40a2.08,2.08 0 1,0 4.16,0a2.08,2.08 0 1,0 -4.16,0M868.32,276.80a2.08,2.08 0 1,0 4.16,0a2.08,2.08 0 1,0 -4.16,0M869.42,276.20a2.08,2.08 0 1,0 4.16,0a2.08,2.08 0 1,0 -4.16,0M870.52,276.50a2.08,2.08 0 1,0 4.16,0a2.08,2.08 0 1,0 -4.16,0M871.62,277.00a2.08,2.08 0 1,0 4.16,0a2.08,2.08 0 1,0 -4.16,0M872.72,276.30a2.08,2.08 0 1,0 4.16,0a2.08,2.08 0 1,0 -4.16,0M873.82,276.60a2.08,2.08 0 1,0 4.16,0a2.08,2.08 0 1,0 -4.16,0M874.92,277.10a2.08,2.08 0 1,0 4.16,0a2.08,2.08 0 1,0 -4.16,0M876.02,276.40a2.08,2.08 0 1,0 4.16,0a2.08,2.08 0 1,0 -4.16,0M877.12,276.80a2.08,2.08 0 1,0 4.16,0a2.08,2.08 0 1,0 -4.16,0M878.22,277.20a2.08,2.08 0 1,0 4.16,0a2.08,2.08 0 1,0 -4.16,0M879.32,276.50a2.08,2.08 0 1,0 4.16,0a2.08,2.08 0 1,0 -4.16,0M880.42,276.90a2.08,2.08 0 1,0 4.16,0a2.08,2.08 0 1,0 -4.16,0M881.52,277.30a2.08,2.08 0 1,0 4.16,0a2.08,2.08 0 1,0 -4.16,0M882.62,276.70a2.08,2.08 0 1,0 4.16,0a2.08,2.08 0 1,0 -4.16,0M883.72,277.00a2.08,2.08 0 1,0 4.16,0a2.08,2.08 0 1,0 -4.16,0" fill="#000" stroke="#000" stroke-width="1.39"/><path d="M119.60,249.03 L120.27,247.93 L120.93,246.53 L121.60,246.06 L122.26,243.33 L122.93,241.73 L123.59,240.20 L124.26,238.74 L124.92,237.34 L125.59,236.00 L126.25,235.81 L126.92,233.47 L127.58,232.27 L128.25,231.10 L128.91,229.96 L129.58,228.84 L130.24,227.73 L130.91,227.73 L131.58,225.53 L132.24,224.42 L132.91,223.30 L133.57,222.19 L134.24,221.08 L134.90,219.97 L135.57,219.97 L136.23,217.76 L136.90,216.66 L137.56,215.57 L138.23,214.47 L138.89,213.37 L139.56,212.28 L140.22,212.28 L140.89,210.07 L141.55,208.95 L142.22,207.80 L142.89,206.60 L143.55,205.36 L144.22,204.11 L144.88,204.01 L145.55,201.82 L146.21,200.89 L146.88,200.15 L147.54,199.58 L148.21,199.15 L148.87,198.83 L149.54,199.71 L150.20,198.45 L150.87,198.31 L151.53,198.18 L152.20,198.03 L152.87,197.85 L153.53,197.63 L154.20,198.45 L154.86,197.03 L155.53,196.66 L156.19,196.23 L156.86,195.74 L157.52,195.19 L158.19,194.58 L158.85,195.01 L159.52,193.20 L160.18,192.44 L160.85,191.64 L161.51,190.77 L162.18,189.79 L162.84,188.68 L163.51,188.53 L164.18,186.04 L164.84,184.51 L165.51,182.89 L166.17,181.19 L166.84,179.44 L167.50,177.64 L168.17,176.92 L168.83,173.96 L169.50,172.12 L170.16,170.37 L170.83,168.79 L171.49,167.47 L172.16,166.42 L172.82,166.72 L173.49,165.04 L174.15,164.65 L174.82,164.44 L175.49,164.41 L176.15,164.55 L176.82,164.85 L177.48,166.41 L178.15,165.90 L178.81,166.63 L179.48,167.48 L180.14,168.45 L180.81,169.50 L181.47,170.56 L182.14,172.69 L182.80,172.57 L183.47,173.49 L184.13,174.32 L184.80,175.06 L185.46,175.66 L186.13,176.09 L186.80,177.42 L187.46,176.36 L188.13,176.22 L188.79,175.91 L189.46,175.45 L190.12,174.82 L190.79,174.04 L191.45,174.18 L192.12,171.97 L192.78,170.76 L193.45,169.51 L194.11,168.27 L194.78,167.10 L195.44,166.03 L196.11,166.14 L196.77,164.14 L197.44,163.29 L198.11,162.48 L198.77,161.67 L199.44,160.85 L200.10,160.02 L200.77,160.25 L201.43,158.26 L202.10,157.35 L202.76,156.40 L203.43,155.42 L204.09,154.40 L204.76,153.31 L205.42,153.26 L206.09,150.92 L206.75,149.59 L207.42,148.16 L208.08,146.65 L208.75,145.06 L209.42,143.40 L210.08,142.78 L210.75,139.91 L211.41,138.08 L212.08,136.20 L212.74,134.27 L213.41,132.29 L214.07,130.27 L214.74,129.31 L215.40,126.11 L216.07,123.99 L216.73,121.84 L217.40,119.68 L218.06,117.53 L218.73,115.40 L219.40,114.44 L220.06,111.37 L220.73,109.54 L221.39,107.88 L222.06,106.41 L222.72,105.13 L223.39,104.01 L224.05,104.14 L224.72,102.20 L225.38,101.47 L226.05,100.87 L226.71,100.41 L227.38,100.10 L228.04,99.96 L228.71,101.04 L229.37,100.04 L230.04,100.25 L230.71,100.55 L231.37,100.96 L232.04,101.44 L232.70,101.98 L233.37,103.64 L234.03,103.11 L234.70,103.68 L235.36,104.25 L236.03,104.82 L236.69,105.37 L237.36,105.91 L238.02,107.54 L238.69,106.93 L239.35,107.41 L240.02,107.87 L240.68,108.31 L241.35,108.74 L242.02,109.17 L242.68,110.70 L243.35,110.03 L244.01,110.46 L244.68,110.89 L245.34,111.32 L246.01,111.75 L246.67,112.19 L247.34,113.75 L248.00,113.12 L248.67,113.60 L249.33,114.10 L250.00,114.62 L250.66,115.16 L251.33,115.73 L251.99,117.42 L252.66,116.95 L253.33,117.62 L253.99,118.33 L254.66,119.10 L255.32,119.93 L255.99,120.85 L256.65,122.95 L257.32,122.96 L257.98,124.17 L258.65,125.49 L259.31,126.91 L259.98,128.41 L260.64,130.00 L261.31,132.78 L261.97,133.42 L262.64,135.24 L263.30,137.11 L263.97,139.04 L264.64,141.02 L265.30,143.05 L265.97,146.24 L266.63,147.28 L267.30,149.44 L267.96,151.59 L268.63,153.71 L269.29,155.78 L269.96,157.79 L270.62,160.85 L271.29,161.66 L271.95,163.48 L272.62,165.18 L273.28,166.70 L273.95,167.98 L274.61,169.00 L275.28,170.85 L275.95,170.26 L276.61,170.56 L277.28,170.68 L277.94,170.63 L278.61,170.45 L279.27,170.13 L279.94,170.77 L280.60,169.04 L281.27,168.22 L281.93,167.24 L282.60,166.15 L283.26,165.01 L283.93,163.87 L284.59,163.90 L285.26,161.79 L285.93,160.86 L286.59,160.00 L287.26,159.22 L287.92,158.53 L288.59,157.98 L289.25,158.70 L289.92,157.38 L290.58,157.33 L291.25,157.45 L291.91,157.75 L292.58,158.25 L293.24,159.02 L293.91,161.18 L294.57,161.45 L295.24,163.05 L295.90,164.84 L296.57,166.75 L297.24,168.76 L297.90,170.88 L298.57,174.22 L299.23,175.53 L299.90,178.12 L300.56,180.90 L301.23,183.82 L301.89,186.77 L302.56,189.62 L303.22,193.34 L303.89,194.55 L304.55,196.53 L305.22,198.19 L305.88,199.56 L306.55,200.62 L307.21,201.41 L307.88,203.07 L308.55,202.35 L309.21,202.59 L309.88,202.74 L310.54,202.81 L311.21,202.78 L311.87,202.67 L312.54,203.58 L313.20,202.23 L313.87,201.95 L314.53,201.68 L315.20,201.44 L315.86,201.27 L316.53,201.16 L317.19,202.23 L317.86,201.16 L318.52,201.23 L319.19,201.34 L319.86,201.48 L320.52,201.64 L321.19,201.83 L321.85,203.16 L322.52,202.34 L323.18,202.68 L323.85,203.08 L324.51,203.53 L325.18,204.01 L325.84,204.49 L326.51,206.07 L327.17,205.42 L327.84,205.84 L328.50,206.23 L329.17,206.61 L329.83,206.96 L330.50,207.31 L331.17,208.74 L331.83,207.97 L332.50,208.28 L333.16,208.58 L333.83,208.87 L334.49,209.14 L335.16,209.40 L335.82,210.74 L336.49,209.87 L337.15,210.09 L337.82,210.31 L338.48,210.54 L339.15,210.79 L339.81,211.05 L340.48,212.45 L341.14,211.67 L341.81,212.02 L342.48,212.41 L343.14,212.84 L343.81,213.30 L344.47,213.80 L345.14,215.47 L345.80,215.01 L346.47,215.73 L347.13,216.55 L347.80,217.44 L348.46,218.38 L349.13,219.32 L349.79,221.33 L350.46,221.08 L351.12,221.85 L351.79,222.54 L352.46,223.18 L353.12,223.75 L353.79,224.27 L354.45,225.83 L355.12,225.10 L355.78,225.37 L356.45,225.53 L357.11,225.58 L357.78,225.53 L358.44,225.41 L359.11,226.32 L359.77,224.99 L360.44,224.74 L361.10,224.48 L361.77,224.21 L362.43,223.95 L363.10,223.68 L363.77,224.52 L364.43,223.16 L365.10,222.91 L365.76,222.70 L366.43,222.52 L367.09,222.41 L367.76,222.36 L368.42,223.48 L369.09,222.47 L369.75,222.62 L370.42,222.82 L371.08,223.06 L371.75,223.33 L372.41,223.63 L373.08,225.05 L373.74,224.29 L374.41,224.67 L375.08,225.08 L375.74,225.52 L376.41,225.98 L377.07,226.45 L377.74,228.03 L378.40,227.40 L379.07,227.85 L379.73,228.30 L380.40,228.74 L381.06,229.18 L381.73,229.62 L382.39,231.15 L383.06,230.48 L383.72,230.91 L384.39,231.33 L385.05,231.75 L385.72,232.16 L386.39,232.58 L387.05,234.10 L387.72,233.45 L388.38,233.94 L389.05,234.50 L389.71,235.14 L390.38,235.88 L391.04,236.72 L391.71,238.77 L392.37,238.69 L393.04,239.79 L393.70,240.94 L394.37,242.15 L395.03,243.42 L395.70,244.76 L396.36,247.28 L397.03,247.71 L397.70,249.34 L398.36,251.04 L399.03,252.71 L399.69,254.27 L400.36,255.63 L401.02,257.86 L401.69,257.65 L402.35,258.37 L403.02,258.93 L403.68,259.37 L404.35,259.68 L405.01,259.87 L405.68,261.02 L406.34,259.86 L407.01,259.72 L407.67,259.52 L408.34,259.31 L409.01,259.14 L409.67,259.02 L410.34,260.08 L411.00,259.01 L411.67,259.10 L412.33,259.26 L413.00,259.48 L413.66,259.77 L414.33,260.18 L414.99,261.85 L415.66,261.54 L416.32,262.56 L416.99,263.79 L417.65,265.15 L418.32,266.57 L418.99,267.98 L419.65,270.46 L420.32,270.70 L420.98,272.02 L421.65,273.35 L422.31,274.68 L422.98,276.05 L423.64,277.44 L424.31,279.96 L424.97,280.32 L425.64,281.82 L426.30,283.34 L426.97,284.90 L427.63,286.50 L428.30,288.15 L428.96,291.00 L429.63,291.74 L430.30,293.69 L430.96,295.67 L431.63,297.62 L432.29,299.40 L432.96,300.91 L433.62,303.19 L434.29,302.95 L434.95,303.56 L435.62,303.98 L436.28,304.30 L436.95,304.55 L437.61,304.75 L438.28,306.00 L438.94,305.02 L439.61,305.09 L440.27,305.11 L440.94,305.10 L441.61,305.04 L442.27,304.94 L442.94,305.92 L443.60,304.66 L444.27,304.48 L444.93,304.27 L445.60,304.05 L446.26,303.82 L446.93,303.57 L447.59,304.40 L448.26,303.01 L448.92,302.70 L449.59,302.34 L450.25,301.95 L450.92,301.50 L451.58,300.99 L452.25,301.50 L452.92,299.71 L453.58,298.89 L454.25,297.91 L454.91,296.78 L455.58,295.50 L456.24,294.12 L456.91,293.78 L457.57,291.22 L458.24,289.77 L458.90,288.34 L459.57,286.94 L460.23,285.55 L460.90,284.18 L461.56,283.92 L462.23,281.49 L462.89,280.19 L463.56,278.92 L464.23,277.67 L464.89,276.45 L465.56,275.24 L466.22,275.17 L466.89,272.96 L467.55,271.95 L468.22,271.08 L468.88,270.36 L469.55,269.80 L470.21,269.39 L470.88,270.19 L471.54,268.89 L472.21,268.78 L472.87,268.78 L473.54,268.91 L474.20,269.20 L474.87,269.66 L475.54,271.36 L476.20,270.96 L476.87,271.73 L477.53,272.50 L478.20,273.26 L478.86,273.97 L479.53,274.65 L480.19,276.41 L480.86,275.95 L481.52,276.57 L482.19,277.17 L482.85,277.73 L483.52,278.23 L484.18,278.64 L484.85,280.06 L485.52,279.17 L486.18,279.27 L486.85,279.27 L487.51,279.18 L488.18,279.02 L488.84,278.81 L489.51,279.67 L490.17,278.31 L490.84,278.04 L491.50,277.77 L492.17,277.50 L492.83,277.23 L493.50,276.95 L494.16,277.78 L494.83,276.44 L495.49,276.24 L496.16,276.11 L496.83,276.08 L497.49,276.19 L498.16,276.44 L498.82,277.96 L499.49,277.42 L500.15,278.11 L500.82,278.89 L501.48,279.73 L502.15,280.60 L502.81,281.52 L503.48,283.57 L504.14,283.48 L504.81,284.53 L505.47,285.64 L506.14,286.79 L506.80,287.98 L507.47,289.20 L508.14,291.55 L508.80,291.73 L509.47,293.04 L510.13,294.39 L510.80,295.74 L511.46,297.10 L512.13,298.44 L512.79,300.85 L513.46,301.04 L514.12,302.29 L514.79,303.47 L515.45,304.54 L516.12,305.43 L516.78,306.06 L517.45,307.51 L518.11,306.50 L518.78,306.37 L519.45,306.08 L520.11,305.66 L520.78,305.14 L521.44,304.52 L522.11,304.86 L522.77,302.84 L523.44,301.70 L524.10,300.31 L524.77,298.68 L525.43,296.87 L526.10,294.96 L526.76,294.15 L527.43,291.20 L528.09,289.45 L528.76,287.80 L529.42,286.23 L530.09,284.73 L530.76,283.30 L531.42,283.06 L532.09,280.77 L532.75,279.77 L533.42,279.02 L534.08,278.54 L534.75,278.37 L535.41,278.50 L536.08,280.01 L536.74,279.55 L537.41,280.38 L538.07,281.35 L538.74,282.44 L539.40,283.65 L540.07,284.98 L540.73,287.53 L541.40,287.99 L542.07,289.62 L542.73,291.28 L543.40,292.95 L544.06,294.61 L544.73,296.26 L545.39,299.01 L546.06,299.51 L546.72,301.01 L547.39,302.32 L548.05,303.38 L548.72,304.13 L549.38,304.59 L550.05,305.87 L550.71,304.75 L551.38,304.58 L552.05,304.31 L552.71,303.98 L553.38,303.59 L554.04,303.16 L554.71,303.76 L555.37,302.11 L556.04,301.49 L556.70,300.82 L557.37,300.12 L558.03,299.40 L558.70,298.68 L559.36,299.06 L560.03,297.24 L560.69,296.52 L561.36,295.81 L562.02,295.11 L562.69,294.43 L563.36,293.79 L564.02,294.29 L564.69,292.66 L565.35,292.18 L566.02,291.74 L566.68,291.35 L567.35,291.00 L568.01,290.66 L568.68,291.45 L569.34,290.04 L570.01,289.74 L570.67,289.44 L571.34,289.14 L572.00,288.82 L572.67,288.50 L573.33,289.27 L574.00,287.84 L574.67,287.50 L575.33,287.16 L576.00,286.83 L576.66,286.49 L577.33,286.16 L577.99,286.93 L578.66,285.50 L579.32,285.17 L579.99,284.83 L580.65,284.48 L581.32,284.12 L581.98,283.76 L582.65,284.52 L583.31,283.10 L583.98,282.82 L584.64,282.61 L585.31,282.49 L585.98,282.46 L586.64,282.55 L587.31,283.86 L587.97,283.08 L588.64,283.49 L589.30,283.96 L589.97,284.47 L590.63,285.02 L591.30,285.61 L591.96,287.34 L592.63,286.88 L593.29,287.52 L593.96,288.12 L594.62,288.62 L595.29,288.99 L595.95,289.20 L596.62,290.36 L597.29,289.18 L597.95,288.97 L598.62,288.67 L599.28,288.31 L599.95,287.92 L600.61,287.50 L601.28,288.18 L601.94,286.65 L602.61,286.22 L603.27,285.79 L603.94,285.34 L604.60,284.90 L605.27,284.45 L605.93,285.12 L606.60,283.58 L607.26,283.16 L607.93,282.73 L608.60,282.30 L609.26,281.88 L609.93,281.45 L610.59,282.15 L611.26,280.67 L611.92,280.34 L612.59,280.06 L613.25,279.85 L613.92,279.70 L614.58,279.63 L615.25,280.72 L615.91,279.66 L616.58,279.73 L617.24,279.84 L617.91,279.96 L618.58,280.09 L619.24,280.24 L619.91,281.50 L620.57,280.57 L621.24,280.75 L621.90,280.95 L622.57,281.16 L623.23,281.38 L623.90,281.62 L624.56,282.96 L625.23,282.10 L625.89,282.36 L626.56,282.61 L627.22,282.89 L627.89,283.17 L628.55,283.49 L629.22,284.93 L629.89,284.20 L630.55,284.61 L631.22,285.05 L631.88,285.55 L632.55,286.09 L633.21,286.69 L633.88,288.48 L634.54,288.15 L635.21,289.01 L635.87,289.96 L636.54,290.96 L637.20,291.98 L637.87,292.99 L638.53,295.07 L639.20,294.92 L639.86,295.84 L640.53,296.74 L641.20,297.61 L641.86,298.46 L642.53,299.27 L643.19,301.14 L643.86,300.75 L644.52,301.40 L645.19,301.99 L645.85,302.52 L646.52,303.01 L647.18,303.44 L647.85,304.92 L648.51,304.13 L649.18,304.33 L649.84,304.40 L650.51,304.28 L651.17,303.96 L651.84,303.44 L652.51,303.86 L653.17,301.99 L653.84,301.21 L654.50,300.51 L655.17,299.94 L655.83,299.54 L656.50,299.34 L657.16,300.39 L657.83,299.37 L658.49,299.55 L659.16,299.79 L659.82,300.10 L660.49,300.47 L661.15,300.92 L661.82,302.59 L662.48,302.22 L663.15,303.14 L663.82,304.27 L664.48,305.57 L665.15,307.04 L665.81,308.62 L666.48,311.39 L667.14,312.06 L667.81,313.92 L668.47,315.87 L669.14,317.90 L669.80,319.97 L670.47,322.08 L671.13,325.29 L671.80,326.31 L672.46,328.42 L673.13,330.51 L673.79,332.55 L674.46,334.48 L675.13,336.27 L675.79,339.00 L676.46,339.37 L677.12,340.70 L677.79,341.90 L678.45,342.96 L679.12,343.88 L679.78,344.63 L680.45,346.33 L681.11,345.69 L681.78,346.04 L682.44,346.31 L683.11,346.54 L683.77,346.73 L684.44,346.90 L685.11,348.15 L685.77,347.19 L686.44,347.32 L687.10,347.45 L687.77,347.57 L688.43,347.70 L689.10,347.83 L689.76,349.07 L690.43,348.13 L691.09,348.29 L691.76,348.45 L692.42,348.62 L693.09,348.77 L693.75,348.90 L694.42,350.08 L695.08,349.01 L695.75,348.95 L696.42,348.76 L697.08,348.44 L697.75,347.98 L698.41,347.38 L699.08,347.77 L699.74,345.87 L700.41,344.99 L701.07,344.05 L701.74,343.02 L702.40,341.90 L703.07,340.67 L703.73,340.44 L704.40,337.94 L705.06,336.52 L705.73,335.14 L706.39,333.84 L707.06,332.64 L707.73,331.55 L708.39,331.65 L709.06,329.62 L709.72,328.77 L710.39,327.99 L711.05,327.33 L711.72,326.79 L712.38,326.42 L713.05,327.32 L713.71,326.21 L714.38,326.37 L715.04,326.68 L715.71,327.12 L716.37,327.67 L717.04,328.30 L717.70,330.07 L718.37,329.67 L719.04,330.38 L719.70,331.08 L720.37,331.79 L721.03,332.52 L721.70,333.26 L722.36,335.12 L723.03,334.80 L723.69,335.56 L724.36,336.29 L725.02,336.95 L725.69,337.53 L726.35,338.01 L727.02,339.49 L727.68,338.69 L728.35,338.91 L729.01,339.09 L729.68,339.24 L730.35,339.37 L731.01,339.49 L731.68,340.68 L732.34,339.64 L733.01,339.65 L733.67,339.59 L734.34,339.42 L735.00,339.10 L735.67,338.65 L736.33,339.20 L737.00,337.52 L737.66,337.02 L738.33,336.65 L738.99,336.43 L739.66,336.37 L740.32,336.42 L740.99,337.67 L741.66,336.79 L742.32,337.09 L742.99,337.50 L743.65,338.05 L744.32,338.77 L744.98,339.66 L745.65,341.80 L746.31,341.88 L746.98,343.13 L747.64,344.41 L748.31,345.70 L748.97,346.95 L749.64,348.18 L750.30,350.48 L750.97,350.56 L751.64,351.74 L752.30,352.90 L752.97,354.05 L753.63,355.16 L754.30,356.23 L754.96,358.35 L755.63,358.22 L756.29,359.14 L756.96,360.02 L757.62,360.83 L758.29,361.55 L758.95,362.13 L759.62,363.64 L760.28,362.74 L760.95,362.74 L761.61,362.56 L762.28,362.21 L762.95,361.74 L763.61,361.14 L764.28,361.55 L764.94,359.63 L765.61,358.66 L766.27,357.49 L766.94,356.10 L767.60,354.47 L768.27,352.65 L768.93,351.78 L769.60,348.65 L770.26,346.62 L770.93,344.63 L771.59,342.71 L772.26,340.84 L772.92,339.04 L773.59,338.42 L774.26,335.72 L774.92,334.24 L775.59,332.90 L776.25,331.72 L776.92,330.71 L777.58,329.91 L778.25,330.46 L778.91,329.08 L779.58,329.06 L780.24,329.25 L780.91,329.62 L781.57,330.12 L782.24,330.73 L782.90,332.53 L783.57,332.23 L784.23,333.12 L784.90,334.14 L785.57,335.30 L786.23,336.59 L786.90,337.99 L787.56,340.58 L788.23,341.06 L788.89,342.71 L789.56,344.41 L790.22,346.10 L790.89,347.66 L791.55,348.97 L792.22,351.05 L792.88,350.58 L793.55,350.88 L794.21,350.96 L794.88,350.89 L795.54,350.72 L796.21,350.47 L796.88,351.24 L797.54,349.71 L798.21,349.16 L798.87,348.46 L799.54,347.64 L800.20,346.72 L800.87,345.73 L801.53,345.81 L802.20,343.71 L802.86,342.75 L803.53,341.85 L804.19,341.01 L804.86,340.22 L805.52,339.46 L806.19,339.83 L806.85,338.03 L807.52,337.36 L808.19,336.73 L808.85,336.14 L809.52,335.61 L810.18,335.12 L810.85,335.79 L811.51,334.30 L812.18,333.94 L812.84,333.61 L813.51,333.29 L814.17,332.98 L814.84,332.66 L815.50,333.41 L816.17,331.94 L816.83,331.53 L817.50,331.09 L818.17,330.61 L818.83,330.10 L819.50,329.57 L820.16,330.11 L820.83,328.43 L821.49,327.83 L822.16,327.22 L822.82,326.57 L823.49,325.89 L824.15,325.16 L824.82,325.48 L825.48,323.58 L826.15,322.78 L826.81,322.03 L827.48,321.36 L828.14,320.80 L828.81,320.39 L829.48,321.20 L830.14,319.94 L830.81,319.85 L831.47,319.82 L832.14,319.80 L832.80,319.80 L833.47,319.80 L834.13,320.89 L834.80,319.78 L835.46,319.75 L836.13,319.69 L836.79,319.56 L837.46,319.37 L838.12,319.09 L838.79,319.83 L839.45,318.29 L840.12,317.78 L840.79,317.22 L841.45,316.60 L842.12,315.93 L842.78,315.17 L843.45,315.42 L844.11,313.38 L844.78,312.38 L845.44,311.38 L846.11,310.44 L846.77,309.60 L847.44,308.87 L848.10,309.31 L848.77,307.58 L849.43,306.88 L850.10,306.03 L850.76,305.01 L851.43,303.83 L852.10,302.57 L852.76,302.41 L853.43,300.14 L854.09,299.08 L854.76,298.14 L855.42,297.30 L856.09,296.54 L856.75,295.85 L857.42,296.30 L858.08,294.60 L858.75,294.04 L859.41,293.53 L860.08,293.05 L860.74,292.62 L861.41,292.22 L862.07,292.95 L862.74,291.50 L863.41,291.17 L864.07,290.84 L864.74,290.50 L865.40,290.14 L866.07,289.77 L866.73,290.50 L867.40,289.02 L868.06,288.64 L868.73,288.26 L869.39,287.89 L870.06,287.52 L870.72,287.16 L871.39,287.92 L872.05,286.52 L872.72,286.27 L873.38,286.09 L874.05,285.98 L874.72,285.96 L875.38,286.01 L876.05,287.21 L876.71,286.27 L877.38,286.49 L878.04,286.77 L878.71,287.13 L879.37,287.57 L880.04,288.10 L880.70,289.79 L881.37,289.33 L882.03,290.00 L882.70,290.69 L883.36,291.35 L884.03,291.96 L884.70,292.46 L885.36,293.93 L886.03,293.07 L886.69,293.19 L887.36,293.24 L888.02,293.24 L888.69,293.21 L889.35,293.17 L890.02,294.22 L890.68,293.08 L891.00,291.00 L891.67,290.22 L892.33,289.45 L892.55,263.30 L893.45,263.30 L893.66,287.90 L894.33,287.01 L894.99,286.01 L895.66,285.01 L896.32,284.02 L896.99,283.02 L897.20,256.00 L898.10,256.00 L898.32,282.34 L898.98,282.01 L899.65,281.68 L900.31,281.34 L900.98,281.01 L901.64,281.00 L901.86,251.30 L902.76,251.30 L902.98,281.00 L903.64,281.00 L904.31,281.00 L904.97,281.00 L905.64,281.32 L906.30,281.65 L906.52,254.00 L907.42,254.00 L907.63,283.27 L908.30,284.60 L908.96,285.93 L909.63,288.09 L910.29,290.31 L910.96,292.53 L911.17,264.00 L912.07,264.00 L912.29,296.68 L912.95,298.23 L913.62,299.78 L914.29,301.33 L914.95,302.89 L915.62,304.03 L915.83,275.50 L916.73,275.50 L916.95,306.24 L917.61,307.35 L918.28,308.00 L918.94,308.00 L919.61,308.00 L920.27,307.97 L920.49,280.50 L921.39,280.50 L921.60,307.80 L922.27,307.72 L922.93,307.63 L923.60,307.55 L924.26,307.33 L924.93,306.92 L925.15,278.75 L926.05,278.75 L926.26,306.09 L926.93,305.67 L927.59,305.26 L928.26,304.81 L928.92,304.31 L929.59,303.81 L929.80,275.25 L930.70,275.25 L930.92,302.81 L931.58,302.31" fill="none" stroke="#0072B2" stroke-width="2.08" stroke-linejoin="round" stroke-linecap="square"/><path d="M889.32,276.40a2.08,2.08 0 1,0 4.16,0a2.08,2.08 0 1,0 -4.16,0M889.98,276.56a2.08,2.08 0 1,0 4.16,0a2.08,2.08 0 1,0 -4.16,0M890.64,276.73a2.08,2.08 0 1,0 4.16,0a2.08,2.08 0 1,0 -4.16,0M891.30,276.89a2.08,2.08 0 1,0 4.16,0a2.08,2.08 0 1,0 -4.16,0M891.96,277.06a2.08,2.08 0 1,0 4.16,0a2.08,2.08 0 1,0 -4.16,0M892.62,277.22a2.08,2.08 0 1,0 4.16,0a2.08,2.08 0 1,0 -4.16,0M893.28,277.30a2.08,2.08 0 1,0 4.16,0a2.08,2.08 0 1,0 -4.16,0M893.94,277.31a2.08,2.08 0 1,0 4.16,0a2.08,2.08 0 1,0 -4.16,0M894.60,277.32a2.08,2.08 0 1,0 4.16,0a2.08,2.08 0 1,0 -4.16,0M895.26,277.33a2.08,2.08 0 1,0 4.16,0a2.08,2.08 0 1,0 -4.16,0M895.92,277.34a2.08,2.08 0 1,0 4.16,0a2.08,2.08 0 1,0 -4.16,0M896.58,277.35a2.08,2.08 0 1,0 4.16,0a2.08,2.08 0 1,0 -4.16,0M897.24,277.35a2.08,2.08 0 1,0 4.16,0a2.08,2.08 0 1,0 -4.16,0M897.90,277.36a2.08,2.08 0 1,0 4.16,0a2.08,2.08 0 1,0 -4.16,0M898.56,277.37a2.08,2.08 0 1,0 4.16,0a2.08,2.08 0 1,0 -4.16,0M899.22,277.38a2.08,2.08 0 1,0 4.16,0a2.08,2.08 0 1,0 -4.16,0M899.88,277.39a2.08,2.08 0 1,0 4.16,0a2.08,2.08 0 1,0 -4.16,0M900.54,277.40a2.08,2.08 0 1,0 4.16,0a2.08,2.08 0 1,0 -4.16,0M901.20,277.36a2.08,2.08 0 1,0 4.16,0a2.08,2.08 0 1,0 -4.16,0M901.86,277.27a2.08,2.08 0 1,0 4.16,0a2.08,2.08 0 1,0 -4.16,0M902.52,277.19a2.08,2.08 0 1,0 4.16,0a2.08,2.08 0 1,0 -4.16,0M903.18,277.10a2.08,2.08 0 1,0 4.16,0a2.08,2.08 0 1,0 -4.16,0M903.84,277.01a2.08,2.08 0 1,0 4.16,0a2.08,2.08 0 1,0 -4.16,0M904.50,276.59a2.08,2.08 0 1,0 4.16,0a2.08,2.08 0 1,0 -4.16,0M905.16,276.13a2.08,2.08 0 1,0 4.16,0a2.08,2.08 0 1,0 -4.16,0M905.82,275.67a2.08,2.08 0 1,0 4.16,0a2.08,2.08 0 1,0 -4.16,0M906.48,275.50a2.08,2.08 0 1,0 4.16,0a2.08,2.08 0 1,0 -4.16,0M907.14,275.39a2.08,2.08 0 1,0 4.16,0a2.08,2.08 0 1,0 -4.16,0M907.80,275.27a2.08,2.08 0 1,0 4.16,0a2.08,2.08 0 1,0 -4.16,0" fill="#f00" stroke="#f00" stroke-width="1.39"/><rect x="78.95" y="14.95" width="893.1" height="528.1" fill="none"/><path d="M79.5,15.5 V542.5 M971.5,15.5 V542.5 M79.5,15.5 H971.5 M79.5,542.5 H971.5" stroke="#000" stroke-width="1.11" fill="none" stroke-linecap="square"/><path d="M145.5,542.5 V547.36 M224.5,542.5 V547.36 M306.5,542.5 V547.36 M388.5,542.5 V547.36 M468.5,542.5 V547.36 M549.5,542.5 V547.36 M631.5,542.5 V547.36 M711.5,542.5 V547.36 M792.5,542.5 V547.36 M874.5,542.5 V547.36 M954.5,542.5 V547.36 M79.5,518.5 H74.64 M79.5,414.5 H74.64 M79.5,311.5 H74.64 M79.5,208.5 H74.64 M79.5,104.5 H74.64" stroke="#000" stroke-width="1.11" fill="none"/><text x="116.20" y="562.30" font-size="13.91" text-anchor="start" textLength="57.20" lengthAdjust="spacingAndGlyphs">2023-02</text><text x="196.70" y="562.30" font-size="13.91" text-anchor="start" textLength="57.20" lengthAdjust="spacingAndGlyphs">2023-06</text><text x="277.20" y="562.30" font-size="13.91" text-anchor="start" textLength="57.20" lengthAdjust="spacingAndGlyphs">2023-10</text><text x="359.70" y="562.30" font-size="13.91" text-anchor="start" textLength="57.20" lengthAdjust="spacingAndGlyphs">2024-02</text><text x="439.20" y="562.30" font-size="13.91" text-anchor="start" textLength="57.20" lengthAdjust="spacingAndGlyphs">2024-06</text><text x="520.70" y="562.30" font-size="13.91" text-anchor="start" textLength="57.20" lengthAdjust="spacingAndGlyphs">2024-10</text><text x="602.70" y="562.30" font-size="13.91" text-anchor="start" textLength="57.20" lengthAdjust="spacingAndGlyphs">2025-02</text><text x="682.20" y="562.30" font-size="13.91" text-anchor="start" textLength="57.20" lengthAdjust="spacingAndGlyphs">2025-06</text><text x="763.20" y="562.30" font-size="13.91" text-anchor="start" textLength="57.20" lengthAdjust="spacingAndGlyphs">2025-10</text><text x="845.70" y="562.30" font-size="13.91" text-anchor="start" textLength="57.20" lengthAdjust="spacingAndGlyphs">2026-02</text><text x="925.70" y="562.30" font-size="13.91" text-anchor="start" textLength="57.20" lengthAdjust="spacingAndGlyphs">2026-06</text><text x="62.70" y="523.30" font-size="14.49" text-anchor="start" textLength="8.20" lengthAdjust="spacingAndGlyphs">0</text><text x="43.70" y="420.30" font-size="15.09" text-anchor="start" textLength="25.20" lengthAdjust="spacingAndGlyphs">500</text><text x="35.95" y="317.05" font-size="14.35" text-anchor="start" textLength="33.20" lengthAdjust="spacingAndGlyphs">1000</text><text x="35.95" y="213.80" font-size="14.79" text-anchor="start" textLength="33.20" lengthAdjust="spacingAndGlyphs">1500</text><text x="35.45" y="110.80" font-size="14.79" text-anchor="start" textLength="34.70" lengthAdjust="spacingAndGlyphs">2000</text><text x="525.4" y="582" font-size="14.6" text-anchor="middle">ds</text><text transform="translate(25.2,278.5) rotate(-90)" font-size="14.0" text-anchor="middle">y</text></svg>
</body></html>
